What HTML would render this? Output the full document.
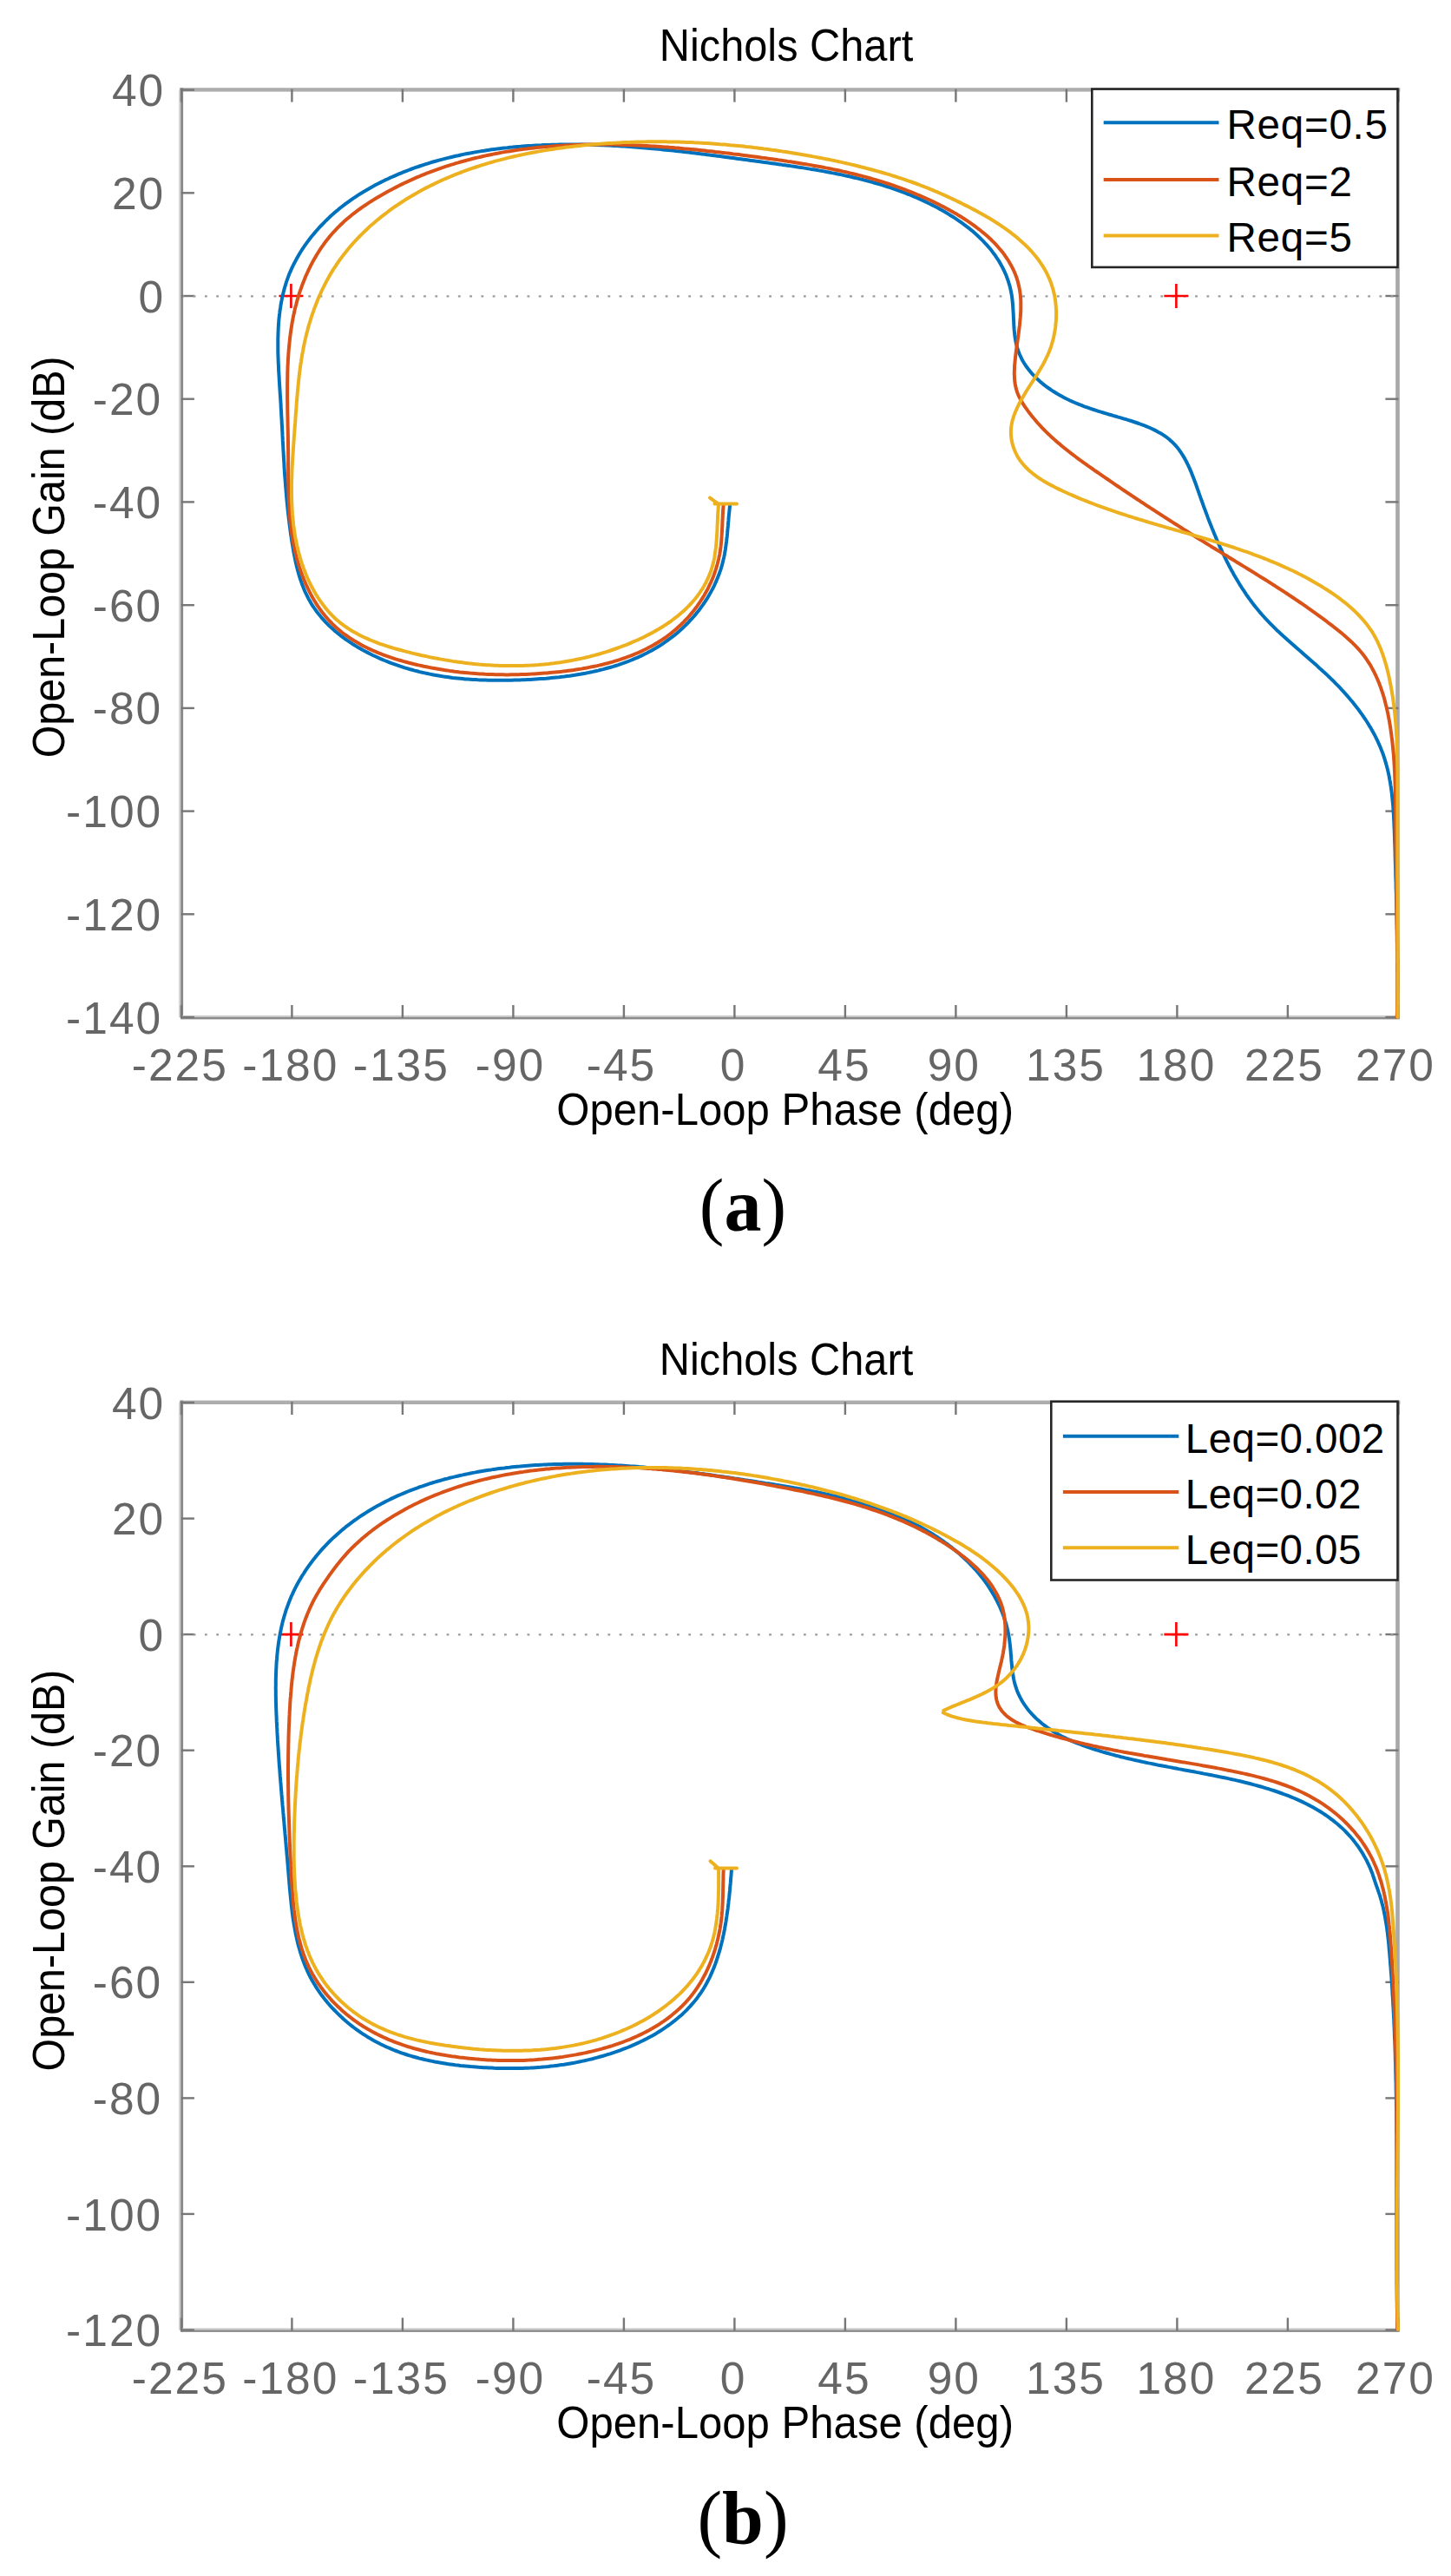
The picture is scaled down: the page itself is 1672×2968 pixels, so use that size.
<!DOCTYPE html>
<html><head><meta charset="utf-8"><title>Nichols Chart</title><style>html,body{margin:0;padding:0;background:#fff;}svg{display:block;}</style></head><body>
<svg xmlns="http://www.w3.org/2000/svg" width="1672" height="2968" viewBox="0 0 1672 2968">
<style>text{font-family:"Liberation Sans",Arial,sans-serif;}</style>
<rect width="1672" height="2968" fill="#fff"/>
<text transform="translate(906.00 70.30) scale(0.9520 1)" x="0.00" text-anchor="middle" style="font-size:51.20px;fill:#000;">Nichols Chart</text>
<rect x="206.9" y="101.2" width="1406.5" height="4.4" fill="#adadad"/>
<rect x="1608.2" y="101.2" width="4.6" height="1072.8" fill="#a8a8a8"/>
<rect x="205.9" y="103.6" width="2.2" height="1068.4" fill="#d6d6d6"/>
<rect x="208.1" y="101.2" width="3" height="1072.8" fill="#8a8a8a"/>
<rect x="208.9" y="1170.0" width="1402.5" height="2" fill="#c8c8c8"/>
<rect x="208.1" y="1172.0" width="1404.5" height="2.4" fill="#8a8a8a"/>
<rect x="207.7" y="102.6" width="2.4" height="15" fill="#777"/>
<rect x="207.7" y="1158.0" width="2.4" height="15" fill="#777"/>
<rect x="335.2" y="102.6" width="2.4" height="15" fill="#777"/>
<rect x="335.2" y="1158.0" width="2.4" height="15" fill="#777"/>
<rect x="462.7" y="102.6" width="2.4" height="15" fill="#777"/>
<rect x="462.7" y="1158.0" width="2.4" height="15" fill="#777"/>
<rect x="590.2" y="102.6" width="2.4" height="15" fill="#777"/>
<rect x="590.2" y="1158.0" width="2.4" height="15" fill="#777"/>
<rect x="717.7" y="102.6" width="2.4" height="15" fill="#777"/>
<rect x="717.7" y="1158.0" width="2.4" height="15" fill="#777"/>
<rect x="845.2" y="102.6" width="2.4" height="15" fill="#777"/>
<rect x="845.2" y="1158.0" width="2.4" height="15" fill="#777"/>
<rect x="972.7" y="102.6" width="2.4" height="15" fill="#777"/>
<rect x="972.7" y="1158.0" width="2.4" height="15" fill="#777"/>
<rect x="1100.2" y="102.6" width="2.4" height="15" fill="#777"/>
<rect x="1100.2" y="1158.0" width="2.4" height="15" fill="#777"/>
<rect x="1227.7" y="102.6" width="2.4" height="15" fill="#777"/>
<rect x="1227.7" y="1158.0" width="2.4" height="15" fill="#777"/>
<rect x="1355.2" y="102.6" width="2.4" height="15" fill="#777"/>
<rect x="1355.2" y="1158.0" width="2.4" height="15" fill="#777"/>
<rect x="1482.7" y="102.6" width="2.4" height="15" fill="#777"/>
<rect x="1482.7" y="1158.0" width="2.4" height="15" fill="#777"/>
<rect x="1610.2" y="102.6" width="2.4" height="15" fill="#777"/>
<rect x="1610.2" y="1158.0" width="2.4" height="15" fill="#777"/>
<rect x="208.9" y="102.4" width="15" height="2.4" fill="#777"/>
<rect x="1596.4" y="102.4" width="15" height="2.4" fill="#777"/>
<rect x="208.9" y="221.1" width="15" height="2.4" fill="#777"/>
<rect x="1596.4" y="221.1" width="15" height="2.4" fill="#777"/>
<rect x="208.9" y="339.8" width="15" height="2.4" fill="#777"/>
<rect x="1596.4" y="339.8" width="15" height="2.4" fill="#777"/>
<rect x="208.9" y="458.5" width="15" height="2.4" fill="#777"/>
<rect x="1596.4" y="458.5" width="15" height="2.4" fill="#777"/>
<rect x="208.9" y="577.2" width="15" height="2.4" fill="#777"/>
<rect x="1596.4" y="577.2" width="15" height="2.4" fill="#777"/>
<rect x="208.9" y="696.0" width="15" height="2.4" fill="#777"/>
<rect x="1596.4" y="696.0" width="15" height="2.4" fill="#777"/>
<rect x="208.9" y="814.7" width="15" height="2.4" fill="#777"/>
<rect x="1596.4" y="814.7" width="15" height="2.4" fill="#777"/>
<rect x="208.9" y="933.4" width="15" height="2.4" fill="#777"/>
<rect x="1596.4" y="933.4" width="15" height="2.4" fill="#777"/>
<rect x="208.9" y="1052.1" width="15" height="2.4" fill="#777"/>
<rect x="1596.4" y="1052.1" width="15" height="2.4" fill="#777"/>
<rect x="208.9" y="1170.8" width="15" height="2.4" fill="#777"/>
<rect x="1596.4" y="1170.8" width="15" height="2.4" fill="#777"/>
<line x1="210.9" y1="341.3" x2="1609.4" y2="341.3" stroke="#9a9a9a" stroke-width="2.3" stroke-dasharray="2.8 10.47" stroke-dashoffset="1.5"/>
<text transform="translate(188.20 122.20)" x="2.00" text-anchor="end" style="font-size:51.50px;fill:#666;letter-spacing:2.00px;">40</text>
<text transform="translate(188.20 240.91)" x="2.00" text-anchor="end" style="font-size:51.50px;fill:#666;letter-spacing:2.00px;">20</text>
<text transform="translate(188.20 359.62)" x="2.00" text-anchor="end" style="font-size:51.50px;fill:#666;letter-spacing:2.00px;">0</text>
<text transform="translate(185.20 478.33)" x="2.00" text-anchor="end" style="font-size:51.50px;fill:#666;letter-spacing:2.00px;">-20</text>
<text transform="translate(185.20 597.04)" x="2.00" text-anchor="end" style="font-size:51.50px;fill:#666;letter-spacing:2.00px;">-40</text>
<text transform="translate(185.20 715.76)" x="2.00" text-anchor="end" style="font-size:51.50px;fill:#666;letter-spacing:2.00px;">-60</text>
<text transform="translate(185.20 834.47)" x="2.00" text-anchor="end" style="font-size:51.50px;fill:#666;letter-spacing:2.00px;">-80</text>
<text transform="translate(185.20 953.18)" x="2.00" text-anchor="end" style="font-size:51.50px;fill:#666;letter-spacing:2.00px;">-100</text>
<text transform="translate(185.20 1071.89)" x="2.00" text-anchor="end" style="font-size:51.50px;fill:#666;letter-spacing:2.00px;">-120</text>
<text transform="translate(185.20 1190.60)" x="2.00" text-anchor="end" style="font-size:51.50px;fill:#666;letter-spacing:2.00px;">-140</text>
<text transform="translate(206.30 1245.20)" x="1.00" text-anchor="middle" style="font-size:51.50px;fill:#666;letter-spacing:2.00px;">-225</text>
<text transform="translate(333.80 1245.20)" x="1.00" text-anchor="middle" style="font-size:51.50px;fill:#666;letter-spacing:2.00px;">-180</text>
<text transform="translate(461.30 1245.20)" x="1.00" text-anchor="middle" style="font-size:51.50px;fill:#666;letter-spacing:2.00px;">-135</text>
<text transform="translate(587.00 1245.20)" x="1.00" text-anchor="middle" style="font-size:51.50px;fill:#666;letter-spacing:2.00px;">-90</text>
<text transform="translate(715.00 1245.20)" x="1.00" text-anchor="middle" style="font-size:51.50px;fill:#666;letter-spacing:2.00px;">-45</text>
<text transform="translate(844.20 1245.20)" x="1.00" text-anchor="middle" style="font-size:51.50px;fill:#666;letter-spacing:2.00px;">0</text>
<text transform="translate(971.90 1245.20)" x="1.00" text-anchor="middle" style="font-size:51.50px;fill:#666;letter-spacing:2.00px;">45</text>
<text transform="translate(1098.30 1245.20)" x="1.00" text-anchor="middle" style="font-size:51.50px;fill:#666;letter-spacing:2.00px;">90</text>
<text transform="translate(1227.00 1245.20)" x="1.00" text-anchor="middle" style="font-size:51.50px;fill:#666;letter-spacing:2.00px;">135</text>
<text transform="translate(1354.40 1245.20)" x="1.00" text-anchor="middle" style="font-size:51.50px;fill:#666;letter-spacing:2.00px;">180</text>
<text transform="translate(1478.90 1245.20)" x="1.00" text-anchor="middle" style="font-size:51.50px;fill:#666;letter-spacing:2.00px;">225</text>
<text transform="translate(1607.00 1245.20)" x="1.00" text-anchor="middle" style="font-size:51.50px;fill:#666;letter-spacing:2.00px;">270</text>
<path d="M321.4 341.0H349.4M335.4 327.0V355.0" stroke="#ff0000" stroke-width="2.6" fill="none"/>
<path d="M1341.4 341.0H1369.4M1355.4 327.0V355.0" stroke="#ff0000" stroke-width="2.6" fill="none"/>
<path d="M841.1 582.1L840.8 585.0L840.5 588.0L840.2 591.0L839.9 593.9L839.6 596.9L839.4 599.9L839.1 602.9L838.9 605.9L838.6 608.9L838.3 611.9L838.1 614.9L837.8 617.9L837.4 620.9L837.1 623.9L836.7 626.8L836.3 629.8L835.9 632.8L835.4 635.7L834.9 638.7L834.3 641.6L833.6 644.6L832.9 647.5L832.2 650.4L831.4 653.2L830.5 656.1L829.5 658.9L828.5 661.8L827.4 664.6L826.3 667.3L825.1 670.1L823.9 672.8L822.6 675.6L821.2 678.3L819.8 680.9L818.3 683.6L816.8 686.2L815.3 688.8L813.6 691.3L812.0 693.8L810.3 696.3L808.5 698.8L806.7 701.3L804.9 703.7L803.0 706.0L801.1 708.4L799.1 710.7L797.1 712.9L795.0 715.2L793.0 717.4L790.9 719.5L788.7 721.6L786.5 723.7L784.3 725.7L782.1 727.7L779.8 729.7L777.5 731.6L775.2 733.4L772.8 735.2L770.4 737.0L768.0 738.7L765.6 740.4L763.1 742.1L760.6 743.7L758.1 745.2L755.6 746.8L753.0 748.3L750.5 749.7L747.9 751.1L745.3 752.5L742.6 753.8L740.0 755.1L737.3 756.3L734.6 757.6L731.9 758.7L729.1 759.9L726.4 761.0L723.6 762.1L720.8 763.1L718.0 764.1L715.2 765.1L712.4 766.1L709.6 767.0L706.7 767.9L703.8 768.7L700.9 769.5L698.0 770.3L695.1 771.1L692.2 771.8L689.3 772.6L686.3 773.2L683.4 773.9L680.4 774.5L677.4 775.1L674.5 775.7L671.5 776.2L668.5 776.8L665.5 777.3L662.5 777.8L659.5 778.2L656.4 778.7L653.4 779.1L650.4 779.5L647.3 779.8L644.3 780.2L641.3 780.5L638.2 780.8L635.2 781.1L632.1 781.4L629.1 781.7L626.0 781.9L623.0 782.1L620.0 782.3L616.9 782.5L613.9 782.7L610.8 782.9L607.8 783.0L604.7 783.2L601.7 783.3L598.7 783.4L595.7 783.5L592.6 783.6L589.6 783.7L586.6 783.7L583.6 783.8L580.6 783.8L577.6 783.8L574.6 783.8L571.6 783.8L568.7 783.8L565.7 783.8L562.7 783.7L559.7 783.6L556.8 783.5L553.8 783.4L550.9 783.3L547.9 783.1L544.9 783.0L542.0 782.8L539.0 782.6L536.1 782.4L533.2 782.1L530.2 781.8L527.3 781.5L524.4 781.2L521.4 780.9L518.5 780.5L515.6 780.1L512.7 779.7L509.8 779.3L506.8 778.8L503.9 778.3L501.0 777.8L498.1 777.2L495.2 776.6L492.3 776.0L489.4 775.4L486.5 774.8L483.6 774.1L480.7 773.3L477.8 772.6L474.9 771.8L472.0 771.0L469.1 770.1L466.3 769.3L463.4 768.3L460.5 767.4L457.6 766.4L454.7 765.4L451.8 764.4L449.0 763.3L446.1 762.1L443.2 761.0L440.4 759.8L437.5 758.6L434.7 757.3L431.9 756.0L429.1 754.7L426.3 753.3L423.6 751.9L420.9 750.5L418.1 749.0L415.5 747.5L412.8 746.0L410.1 744.4L407.5 742.8L405.0 741.1L402.4 739.4L399.9 737.7L397.4 736.0L395.0 734.2L392.5 732.3L390.2 730.4L387.8 728.5L385.5 726.6L383.3 724.6L381.1 722.6L378.9 720.5L376.8 718.4L374.8 716.3L372.8 714.1L370.8 711.9L368.9 709.6L367.0 707.3L365.2 705.0L363.5 702.6L361.8 700.2L360.2 697.8L358.6 695.3L357.2 692.8L355.7 690.2L354.4 687.6L353.1 684.9L351.8 682.3L350.6 679.6L349.5 676.8L348.4 674.0L347.4 671.2L346.4 668.4L345.5 665.6L344.6 662.7L343.8 659.8L343.0 656.9L342.2 654.0L341.5 651.0L340.8 648.1L340.2 645.1L339.6 642.1L339.0 639.1L338.4 636.1L337.9 633.1L337.4 630.1L336.9 627.1L336.4 624.1L335.9 621.1L335.5 618.1L335.0 615.1L334.6 612.1L334.2 609.1L333.8 606.1L333.4 603.1L333.1 600.1L332.7 597.1L332.4 594.1L332.0 591.1L331.7 588.2L331.4 585.2L331.1 582.2L330.8 579.2L330.5 576.3L330.2 573.3L330.0 570.3L329.7 567.3L329.5 564.4L329.2 561.4L329.0 558.4L328.8 555.4L328.6 552.5L328.3 549.5L328.1 546.5L327.9 543.6L327.7 540.6L327.5 537.6L327.4 534.6L327.2 531.7L327.0 528.7L326.8 525.7L326.7 522.8L326.5 519.8L326.3 516.8L326.2 513.8L326.0 510.8L325.8 507.9L325.7 504.9L325.5 501.9L325.4 498.9L325.2 495.9L325.1 492.9L324.9 489.9L324.7 486.9L324.6 483.9L324.4 480.9L324.2 477.9L324.1 474.9L323.9 471.9L323.7 468.9L323.6 465.9L323.4 462.9L323.2 459.9L323.0 456.8L322.8 453.8L322.6 450.8L322.4 447.7L322.2 444.7L322.0 441.7L321.8 438.6L321.7 435.6L321.5 432.6L321.3 429.5L321.1 426.5L321.0 423.4L320.9 420.4L320.7 417.4L320.6 414.3L320.5 411.3L320.4 408.3L320.3 405.2L320.3 402.2L320.3 399.2L320.3 396.2L320.3 393.2L320.3 390.2L320.4 387.2L320.5 384.2L320.6 381.2L320.7 378.2L320.9 375.2L321.1 372.2L321.3 369.3L321.6 366.3L321.9 363.4L322.3 360.4L322.6 357.5L323.1 354.6L323.5 351.7L324.0 348.8L324.6 345.9L325.1 343.0L325.8 340.1L326.5 337.3L327.2 334.4L328.0 331.6L328.8 328.8L329.7 325.9L330.6 323.1L331.6 320.4L332.6 317.6L333.7 314.8L334.9 312.1L336.1 309.4L337.4 306.7L338.7 304.0L340.1 301.3L341.5 298.7L343.0 296.0L344.5 293.4L346.1 290.8L347.7 288.2L349.4 285.7L351.1 283.2L352.9 280.7L354.7 278.2L356.5 275.8L358.4 273.3L360.3 271.0L362.3 268.6L364.3 266.3L366.3 264.0L368.4 261.7L370.5 259.5L372.6 257.3L374.7 255.1L376.9 253.0L379.1 250.9L381.3 248.8L383.6 246.8L385.8 244.8L388.1 242.9L390.4 240.9L392.8 239.0L395.2 237.2L397.5 235.4L399.9 233.6L402.4 231.8L404.8 230.1L407.3 228.4L409.7 226.8L412.2 225.1L414.8 223.5L417.3 222.0L419.8 220.4L422.4 218.9L425.0 217.4L427.6 215.9L430.2 214.5L432.8 213.1L435.4 211.7L438.1 210.4L440.8 209.0L443.4 207.7L446.1 206.5L448.8 205.2L451.5 204.0L454.2 202.8L457.0 201.6L459.7 200.4L462.4 199.3L465.2 198.2L468.0 197.1L470.8 196.0L473.5 195.0L476.3 193.9L479.1 192.9L482.0 192.0L484.8 191.0L487.6 190.1L490.5 189.2L493.3 188.3L496.2 187.4L499.0 186.5L501.9 185.7L504.8 184.9L507.7 184.1L510.6 183.4L513.5 182.6L516.4 181.9L519.3 181.2L522.2 180.5L525.1 179.8L528.1 179.2L531.0 178.5L533.9 177.9L536.9 177.3L539.8 176.7L542.8 176.2L545.8 175.6L548.7 175.1L551.7 174.6L554.7 174.1L557.6 173.7L560.6 173.2L563.6 172.8L566.6 172.3L569.6 171.9L572.6 171.6L575.6 171.2L578.6 170.8L581.6 170.5L584.6 170.2L587.6 169.8L590.6 169.6L593.6 169.3L596.6 169.0L599.6 168.8L602.6 168.5L605.6 168.3L608.6 168.1L611.6 167.9L614.7 167.7L617.7 167.5L620.7 167.4L623.7 167.3L626.7 167.1L629.7 167.0L632.7 166.9L635.7 166.8L638.7 166.7L641.7 166.7L644.7 166.6L647.7 166.6L650.7 166.5L653.7 166.5L656.7 166.5L659.7 166.5L662.7 166.5L665.7 166.5L668.7 166.6L671.7 166.6L674.7 166.7L677.7 166.7L680.7 166.8L683.6 166.9L686.6 167.0L689.6 167.1L692.6 167.2L695.6 167.3L698.6 167.5L701.6 167.6L704.5 167.8L707.5 167.9L710.5 168.1L713.5 168.3L716.5 168.4L719.5 168.6L722.4 168.8L725.4 169.0L728.4 169.3L731.4 169.5L734.4 169.7L737.3 170.0L740.3 170.2L743.3 170.5L746.3 170.7L749.3 171.0L752.2 171.2L755.2 171.5L758.2 171.8L761.2 172.1L764.1 172.4L767.1 172.7L770.1 173.0L773.1 173.3L776.0 173.6L779.0 174.0L782.0 174.3L785.0 174.6L788.0 175.0L790.9 175.3L793.9 175.6L796.9 176.0L799.9 176.3L802.9 176.7L805.8 177.1L808.8 177.4L811.8 177.8L814.8 178.2L817.8 178.6L820.7 178.9L823.7 179.3L826.7 179.7L829.7 180.1L832.7 180.5L835.7 180.9L838.6 181.3L841.6 181.7L844.6 182.1L847.6 182.5L850.6 182.9L853.6 183.3L856.6 183.7L859.6 184.1L862.5 184.5L865.5 184.9L868.5 185.3L871.5 185.7L874.5 186.1L877.5 186.5L880.5 186.9L883.5 187.3L886.5 187.8L889.5 188.2L892.5 188.6L895.5 189.0L898.5 189.4L901.5 189.9L904.5 190.3L907.5 190.7L910.5 191.1L913.5 191.6L916.5 192.0L919.5 192.5L922.5 192.9L925.5 193.4L928.4 193.9L931.4 194.4L934.4 194.9L937.4 195.3L940.4 195.8L943.4 196.4L946.3 196.9L949.3 197.4L952.3 198.0L955.2 198.5L958.2 199.1L961.1 199.6L964.1 200.2L967.0 200.8L970.0 201.4L972.9 202.1L975.9 202.7L978.8 203.3L981.7 204.0L984.6 204.7L987.6 205.4L990.5 206.1L993.4 206.8L996.3 207.6L999.2 208.3L1002.1 209.1L1004.9 209.9L1007.8 210.7L1010.7 211.5L1013.6 212.3L1016.4 213.2L1019.3 214.1L1022.1 215.0L1024.9 215.9L1027.8 216.9L1030.6 217.8L1033.4 218.8L1036.2 219.8L1039.0 220.8L1041.8 221.9L1044.5 223.0L1047.3 224.0L1050.1 225.2L1052.8 226.3L1055.6 227.5L1058.3 228.7L1061.0 229.9L1063.7 231.1L1066.4 232.4L1069.1 233.7L1071.8 235.0L1074.5 236.4L1077.2 237.7L1079.8 239.1L1082.4 240.6L1085.1 242.0L1087.7 243.5L1090.3 245.0L1092.9 246.6L1095.4 248.2L1098.0 249.8L1100.5 251.4L1103.0 253.1L1105.5 254.8L1108.0 256.5L1110.4 258.3L1112.8 260.1L1115.1 261.9L1117.5 263.7L1119.8 265.6L1122.1 267.6L1124.3 269.5L1126.5 271.5L1128.6 273.5L1130.7 275.6L1132.8 277.7L1134.8 279.8L1136.8 281.9L1138.7 284.1L1140.6 286.3L1142.5 288.6L1144.2 290.9L1146.0 293.2L1147.6 295.6L1149.2 298.0L1150.8 300.4L1152.3 302.9L1153.7 305.4L1155.1 308.0L1156.4 310.6L1157.6 313.2L1158.8 315.8L1159.9 318.5L1160.9 321.3L1161.9 324.0L1162.7 326.9L1163.6 329.7L1164.3 332.6L1164.9 335.5L1165.5 338.5L1166.0 341.5L1166.4 344.6L1166.7 347.7L1167.0 350.8L1167.2 353.9L1167.4 357.0L1167.6 360.2L1167.8 363.4L1167.9 366.6L1168.1 369.7L1168.2 372.9L1168.4 376.0L1168.6 379.2L1168.9 382.3L1169.2 385.4L1169.6 388.4L1170.1 391.4L1170.6 394.4L1171.3 397.3L1172.0 400.2L1172.9 403.0L1173.9 405.8L1175.0 408.5L1176.2 411.1L1177.4 413.7L1178.8 416.3L1180.3 418.7L1181.9 421.2L1183.6 423.5L1185.3 425.8L1187.1 428.1L1189.0 430.3L1191.0 432.4L1193.0 434.5L1195.1 436.5L1197.3 438.5L1199.4 440.4L1201.7 442.3L1204.0 444.1L1206.3 445.8L1208.7 447.5L1211.1 449.2L1213.5 450.8L1215.9 452.3L1218.4 453.8L1220.9 455.2L1223.4 456.6L1225.9 458.0L1228.4 459.3L1231.0 460.5L1233.5 461.7L1236.1 462.9L1238.7 464.0L1241.4 465.1L1244.0 466.2L1246.7 467.2L1249.4 468.3L1252.0 469.2L1254.8 470.2L1257.5 471.1L1260.2 472.0L1263.0 472.9L1265.8 473.8L1268.6 474.7L1271.4 475.5L1274.2 476.3L1277.0 477.2L1279.9 478.0L1282.8 478.9L1285.7 479.7L1288.6 480.6L1291.5 481.4L1294.5 482.3L1297.5 483.2L1300.5 484.1L1303.5 485.0L1306.4 486.0L1309.4 487.0L1312.4 488.0L1315.3 489.1L1318.3 490.2L1321.2 491.3L1324.0 492.5L1326.8 493.8L1329.6 495.1L1332.3 496.4L1334.9 497.9L1337.5 499.3L1340.0 500.9L1342.5 502.5L1344.8 504.2L1347.1 506.0L1349.2 507.9L1351.3 509.8L1353.3 511.8L1355.2 513.9L1357.0 516.1L1358.7 518.3L1360.3 520.6L1361.9 523.0L1363.4 525.4L1364.9 527.9L1366.3 530.4L1367.6 533.0L1368.9 535.6L1370.1 538.2L1371.3 540.9L1372.5 543.6L1373.6 546.4L1374.7 549.2L1375.8 552.0L1376.8 554.8L1377.9 557.6L1378.9 560.5L1379.9 563.3L1380.9 566.2L1381.9 569.1L1382.9 571.9L1383.9 574.8L1385.0 577.7L1386.0 580.5L1387.0 583.4L1388.1 586.2L1389.1 589.1L1390.2 591.9L1391.2 594.7L1392.3 597.6L1393.4 600.4L1394.5 603.2L1395.6 606.0L1396.7 608.8L1397.9 611.6L1399.0 614.4L1400.1 617.1L1401.3 619.9L1402.5 622.7L1403.7 625.4L1404.9 628.2L1406.1 630.9L1407.4 633.6L1408.6 636.3L1409.9 639.0L1411.2 641.7L1412.5 644.3L1413.8 647.0L1415.2 649.7L1416.5 652.3L1417.9 654.9L1419.3 657.5L1420.8 660.1L1422.2 662.7L1423.7 665.2L1425.2 667.8L1426.7 670.3L1428.2 672.8L1429.8 675.3L1431.3 677.8L1433.0 680.2L1434.6 682.7L1436.2 685.1L1437.9 687.5L1439.6 689.9L1441.4 692.3L1443.1 694.6L1444.9 697.0L1446.7 699.3L1448.6 701.6L1450.4 703.8L1452.4 706.1L1454.3 708.3L1456.3 710.5L1458.2 712.7L1460.3 714.8L1462.3 717.0L1464.4 719.1L1466.5 721.2L1468.6 723.3L1470.7 725.4L1472.9 727.4L1475.1 729.5L1477.3 731.5L1479.5 733.6L1481.7 735.6L1483.9 737.6L1486.2 739.6L1488.4 741.6L1490.7 743.6L1493.0 745.6L1495.3 747.6L1497.6 749.6L1499.9 751.6L1502.1 753.6L1504.4 755.6L1506.7 757.6L1509.0 759.6L1511.3 761.6L1513.6 763.6L1515.9 765.6L1518.2 767.6L1520.4 769.7L1522.7 771.7L1524.9 773.8L1527.2 775.8L1529.4 777.9L1531.6 780.0L1533.8 782.1L1536.0 784.2L1538.1 786.4L1540.3 788.6L1542.4 790.7L1544.5 792.9L1546.5 795.2L1548.6 797.4L1550.6 799.6L1552.6 801.9L1554.6 804.2L1556.5 806.5L1558.5 808.8L1560.4 811.2L1562.2 813.5L1564.1 815.9L1565.9 818.3L1567.6 820.7L1569.4 823.1L1571.1 825.6L1572.8 828.1L1574.4 830.5L1576.0 833.0L1577.5 835.6L1579.1 838.1L1580.6 840.7L1582.0 843.2L1583.4 845.8L1584.8 848.4L1586.1 851.1L1587.4 853.7L1588.6 856.4L1589.8 859.1L1590.9 861.8L1592.0 864.5L1593.1 867.3L1594.1 870.0L1595.0 872.8L1595.9 875.6L1596.7 878.4L1597.5 881.2L1598.3 884.1L1599.0 887.0L1599.7 889.8L1600.3 892.7L1600.9 895.7L1601.4 898.6L1602.0 901.5L1602.4 904.5L1602.9 907.4L1603.3 910.4L1603.7 913.4L1604.0 916.4L1604.3 919.4L1604.6 922.4L1604.9 925.4L1605.2 928.4L1605.4 931.4L1605.6 934.5L1605.8 937.5L1606.0 940.5L1606.1 943.6L1606.3 946.6L1606.4 949.7L1606.5 952.7L1606.7 955.7L1606.8 958.8L1606.9 961.8L1607.0 964.9L1607.1 967.9L1607.2 970.9L1607.3 974.0L1607.4 977.0L1607.5 980.0L1607.6 983.0L1607.6 986.1L1607.7 989.1L1607.8 992.1L1607.9 995.1L1608.0 998.1L1608.1 1001.1L1608.2 1004.1L1608.2 1007.1L1608.3 1010.1L1608.4 1013.1L1608.5 1016.1L1608.6 1019.1L1608.6 1022.1L1608.7 1025.1L1608.8 1028.1L1608.9 1031.1L1608.9 1034.1L1609.0 1037.0L1609.1 1040.0L1609.1 1043.0L1609.2 1046.0L1609.3 1049.0L1609.3 1052.0L1609.4 1054.9L1609.4 1057.9L1609.5 1060.9L1609.5 1063.9L1609.6 1066.9L1609.6 1069.8L1609.7 1072.8L1609.7 1075.8L1609.8 1078.8L1609.8 1081.8L1609.8 1084.8L1609.9 1087.7L1609.9 1090.7L1609.9 1093.7L1610.0 1096.7L1610.0 1099.7L1610.0 1102.7L1610.1 1105.7L1610.1 1108.7L1610.1 1111.7L1610.1 1114.7L1610.1 1117.7L1610.1 1120.7L1610.1 1123.7L1610.1 1126.7L1610.2 1129.7L1610.2 1132.7L1610.1 1135.7L1610.1 1138.7L1610.1 1141.8L1610.1 1144.8L1610.1 1147.8L1610.1 1150.8L1610.1 1153.9L1610.1 1156.9L1610.0 1159.9L1610.0 1163.0L1610.0 1166.0L1609.9 1169.1L1609.9 1172.1" fill="none" stroke="#0072BD" stroke-width="4" stroke-linejoin="round" stroke-linecap="round"/>
<path d="M833.6 582.1L833.4 585.1L833.1 588.0L833.0 591.0L832.8 594.0L832.7 597.0L832.5 599.9L832.4 602.9L832.3 605.9L832.1 608.9L832.0 611.8L831.8 614.8L831.6 617.7L831.4 620.7L831.2 623.6L830.9 626.6L830.6 629.5L830.2 632.5L829.8 635.4L829.3 638.3L828.7 641.2L828.1 644.1L827.4 647.0L826.7 649.8L825.9 652.7L825.0 655.5L824.1 658.4L823.1 661.2L822.1 664.0L821.0 666.7L819.8 669.5L818.6 672.2L817.3 674.9L816.0 677.6L814.6 680.3L813.1 682.9L811.7 685.5L810.1 688.1L808.5 690.6L806.9 693.1L805.2 695.6L803.5 698.1L801.7 700.5L799.9 702.9L798.0 705.2L796.1 707.5L794.2 709.8L792.2 712.1L790.1 714.2L788.1 716.4L785.9 718.5L783.8 720.6L781.6 722.6L779.4 724.6L777.1 726.5L774.8 728.4L772.5 730.2L770.1 732.0L767.8 733.8L765.3 735.5L762.9 737.1L760.4 738.7L757.9 740.3L755.4 741.8L752.8 743.3L750.2 744.7L747.6 746.1L745.0 747.5L742.3 748.8L739.6 750.1L736.9 751.3L734.2 752.5L731.4 753.7L728.6 754.8L725.8 755.9L723.0 756.9L720.2 758.0L717.4 758.9L714.5 759.9L711.6 760.8L708.7 761.7L705.8 762.6L702.9 763.4L699.9 764.2L697.0 764.9L694.0 765.7L691.1 766.4L688.1 767.1L685.1 767.7L682.1 768.3L679.1 768.9L676.1 769.5L673.0 770.0L670.0 770.6L667.0 771.1L663.9 771.5L660.9 772.0L657.8 772.4L654.8 772.8L651.8 773.2L648.7 773.6L645.7 773.9L642.6 774.2L639.6 774.5L636.5 774.8L633.5 775.1L630.5 775.4L627.4 775.6L624.4 775.8L621.4 776.0L618.4 776.2L615.4 776.4L612.4 776.6L609.4 776.7L606.4 776.9L603.4 777.0L600.4 777.1L597.4 777.2L594.5 777.2L591.5 777.3L588.5 777.3L585.6 777.4L582.6 777.4L579.7 777.3L576.7 777.3L573.8 777.3L570.8 777.2L567.9 777.1L564.9 777.0L562.0 776.9L559.1 776.8L556.1 776.6L553.2 776.4L550.3 776.2L547.3 776.0L544.4 775.8L541.4 775.6L538.5 775.3L535.6 775.0L532.6 774.7L529.7 774.4L526.8 774.0L523.8 773.7L520.9 773.3L518.0 772.9L515.0 772.4L512.1 772.0L509.1 771.5L506.2 771.0L503.2 770.5L500.3 770.0L497.3 769.5L494.3 768.9L491.4 768.3L488.4 767.7L485.4 767.0L482.5 766.4L479.5 765.7L476.5 765.0L473.5 764.2L470.6 763.5L467.6 762.7L464.6 761.9L461.7 761.0L458.7 760.2L455.8 759.3L452.9 758.3L450.0 757.4L447.1 756.4L444.2 755.4L441.3 754.3L438.4 753.2L435.6 752.1L432.8 750.9L430.0 749.7L427.2 748.4L424.5 747.2L421.8 745.8L419.1 744.5L416.4 743.1L413.8 741.6L411.2 740.1L408.6 738.6L406.1 737.0L403.6 735.4L401.1 733.7L398.7 732.0L396.3 730.3L393.9 728.5L391.6 726.6L389.4 724.7L387.1 722.7L385.0 720.7L382.8 718.6L380.8 716.5L378.7 714.4L376.8 712.1L374.8 709.9L373.0 707.5L371.1 705.2L369.3 702.8L367.6 700.3L365.9 697.8L364.3 695.3L362.7 692.7L361.1 690.1L359.6 687.5L358.2 684.8L356.8 682.2L355.4 679.4L354.1 676.7L352.8 673.9L351.6 671.1L350.4 668.3L349.3 665.5L348.2 662.7L347.2 659.8L346.2 657.0L345.2 654.1L344.3 651.2L343.4 648.3L342.6 645.4L341.8 642.5L341.1 639.6L340.4 636.7L339.7 633.8L339.1 630.9L338.5 628.0L338.0 625.1L337.4 622.2L336.9 619.2L336.5 616.3L336.1 613.4L335.7 610.4L335.3 607.5L334.9 604.5L334.6 601.6L334.3 598.6L334.1 595.7L333.8 592.7L333.6 589.7L333.4 586.8L333.2 583.8L333.1 580.8L332.9 577.9L332.8 574.9L332.7 571.9L332.6 568.9L332.5 565.9L332.4 562.9L332.4 559.9L332.3 556.9L332.3 553.9L332.2 550.9L332.2 547.9L332.2 544.9L332.2 541.9L332.2 538.9L332.1 535.9L332.1 532.9L332.1 529.9L332.1 526.9L332.1 523.9L332.1 520.8L332.1 517.8L332.0 514.8L332.0 511.8L332.0 508.7L331.9 505.7L331.9 502.7L331.8 499.7L331.8 496.6L331.7 493.6L331.6 490.6L331.6 487.5L331.5 484.5L331.5 481.5L331.4 478.5L331.3 475.4L331.3 472.4L331.2 469.4L331.2 466.3L331.2 463.3L331.1 460.3L331.1 457.3L331.1 454.2L331.1 451.2L331.1 448.2L331.1 445.2L331.1 442.2L331.2 439.2L331.2 436.2L331.3 433.1L331.3 430.1L331.4 427.1L331.5 424.1L331.6 421.2L331.8 418.2L331.9 415.2L332.1 412.2L332.3 409.2L332.5 406.2L332.7 403.3L333.0 400.3L333.3 397.3L333.6 394.4L333.9 391.4L334.2 388.5L334.6 385.5L335.0 382.6L335.4 379.7L335.9 376.7L336.3 373.8L336.8 370.9L337.4 368.0L337.9 365.1L338.5 362.2L339.2 359.3L339.8 356.4L340.5 353.5L341.3 350.7L342.0 347.8L342.8 344.9L343.7 342.1L344.5 339.2L345.4 336.4L346.4 333.6L347.4 330.8L348.4 328.0L349.5 325.2L350.6 322.4L351.7 319.6L352.9 316.8L354.2 314.1L355.4 311.4L356.8 308.6L358.1 305.9L359.5 303.3L360.9 300.6L362.4 298.0L363.9 295.4L365.5 292.8L367.1 290.2L368.7 287.7L370.4 285.2L372.2 282.7L373.9 280.2L375.7 277.8L377.6 275.4L379.5 273.1L381.4 270.8L383.4 268.5L385.4 266.3L387.5 264.1L389.6 261.9L391.7 259.8L393.9 257.7L396.1 255.6L398.4 253.6L400.7 251.6L403.0 249.7L405.3 247.8L407.7 245.9L410.1 244.1L412.6 242.2L415.0 240.5L417.5 238.7L420.0 237.0L422.5 235.3L425.0 233.6L427.6 232.0L430.2 230.4L432.8 228.8L435.4 227.2L438.0 225.7L440.6 224.2L443.2 222.7L445.8 221.2L448.5 219.8L451.1 218.4L453.8 217.0L456.5 215.6L459.1 214.2L461.8 212.9L464.5 211.6L467.2 210.3L469.9 209.1L472.6 207.8L475.3 206.6L478.0 205.4L480.8 204.2L483.5 203.1L486.2 201.9L489.0 200.8L491.7 199.7L494.5 198.7L497.3 197.6L500.0 196.6L502.8 195.6L505.6 194.6L508.4 193.6L511.2 192.7L514.0 191.7L516.8 190.8L519.6 189.9L522.5 189.1L525.3 188.2L528.1 187.4L531.0 186.5L533.8 185.8L536.7 185.0L539.5 184.2L542.4 183.5L545.2 182.7L548.1 182.0L551.0 181.4L553.9 180.7L556.8 180.0L559.6 179.4L562.5 178.8L565.4 178.2L568.3 177.6L571.3 177.0L574.2 176.5L577.1 175.9L580.0 175.4L582.9 174.9L585.9 174.4L588.8 174.0L591.7 173.5L594.7 173.1L597.6 172.6L600.6 172.2L603.5 171.8L606.5 171.5L609.4 171.1L612.4 170.8L615.4 170.4L618.3 170.1L621.3 169.8L624.3 169.5L627.3 169.2L630.3 169.0L633.3 168.7L636.2 168.5L639.2 168.3L642.2 168.1L645.2 167.9L648.2 167.7L651.2 167.5L654.2 167.4L657.2 167.2L660.2 167.1L663.3 167.0L666.3 166.9L669.3 166.8L672.3 166.7L675.3 166.6L678.3 166.6L681.4 166.5L684.4 166.5L687.4 166.5L690.4 166.5L693.5 166.5L696.5 166.5L699.5 166.5L702.6 166.5L705.6 166.6L708.6 166.6L711.7 166.7L714.7 166.8L717.8 166.9L720.8 166.9L723.8 167.0L726.9 167.2L729.9 167.3L733.0 167.4L736.0 167.5L739.0 167.7L742.1 167.9L745.1 168.0L748.2 168.2L751.2 168.4L754.3 168.6L757.3 168.8L760.3 169.0L763.4 169.2L766.4 169.4L769.5 169.6L772.5 169.9L775.6 170.1L778.6 170.4L781.6 170.6L784.7 170.9L787.7 171.2L790.7 171.4L793.8 171.7L796.8 172.0L799.9 172.3L802.9 172.6L805.9 172.9L808.9 173.2L812.0 173.5L815.0 173.9L818.0 174.2L821.1 174.5L824.1 174.9L827.1 175.2L830.1 175.6L833.1 175.9L836.1 176.3L839.2 176.6L842.2 177.0L845.2 177.4L848.2 177.7L851.2 178.1L854.2 178.5L857.2 178.9L860.2 179.3L863.2 179.7L866.2 180.1L869.2 180.4L872.1 180.8L875.1 181.2L878.1 181.7L881.1 182.1L884.0 182.5L887.0 182.9L890.0 183.3L892.9 183.7L895.9 184.1L898.9 184.6L901.8 185.0L904.8 185.4L907.7 185.9L910.7 186.3L913.6 186.8L916.5 187.2L919.5 187.7L922.4 188.2L925.3 188.7L928.3 189.1L931.2 189.6L934.1 190.1L937.0 190.7L939.9 191.2L942.8 191.7L945.7 192.2L948.6 192.8L951.5 193.4L954.4 193.9L957.3 194.5L960.2 195.1L963.1 195.7L966.0 196.3L968.9 196.9L971.7 197.6L974.6 198.2L977.5 198.9L980.4 199.6L983.2 200.3L986.1 201.0L988.9 201.7L991.8 202.4L994.6 203.2L997.5 203.9L1000.3 204.7L1003.2 205.5L1006.0 206.3L1008.8 207.1L1011.7 208.0L1014.5 208.8L1017.3 209.7L1020.1 210.6L1023.0 211.5L1025.8 212.4L1028.6 213.4L1031.4 214.4L1034.2 215.3L1037.0 216.3L1039.8 217.4L1042.6 218.4L1045.4 219.5L1048.1 220.6L1050.9 221.7L1053.7 222.8L1056.5 224.0L1059.3 225.1L1062.0 226.3L1064.8 227.5L1067.6 228.8L1070.3 230.0L1073.1 231.3L1075.8 232.6L1078.6 234.0L1081.3 235.3L1084.0 236.7L1086.8 238.1L1089.5 239.6L1092.2 241.0L1094.9 242.5L1097.6 244.0L1100.3 245.6L1103.0 247.1L1105.6 248.7L1108.3 250.3L1110.9 252.0L1113.4 253.7L1116.0 255.4L1118.5 257.1L1121.0 258.8L1123.5 260.6L1125.9 262.5L1128.3 264.3L1130.7 266.2L1133.0 268.1L1135.3 270.0L1137.6 272.0L1139.8 274.0L1141.9 276.0L1144.0 278.1L1146.1 280.2L1148.1 282.3L1150.0 284.5L1151.9 286.7L1153.8 288.9L1155.6 291.1L1157.3 293.4L1158.9 295.8L1160.5 298.1L1162.1 300.5L1163.5 302.9L1164.9 305.4L1166.2 307.9L1167.5 310.4L1168.7 313.0L1169.8 315.6L1170.8 318.2L1171.7 320.9L1172.6 323.6L1173.3 326.4L1174.0 329.2L1174.6 332.0L1175.1 334.9L1175.5 337.8L1175.9 340.7L1176.1 343.7L1176.3 346.7L1176.3 349.7L1176.3 352.8L1176.3 355.9L1176.2 359.0L1176.0 362.1L1175.8 365.2L1175.5 368.4L1175.2 371.6L1174.9 374.7L1174.5 377.9L1174.1 381.1L1173.7 384.2L1173.3 387.4L1172.8 390.6L1172.4 393.7L1171.9 396.9L1171.5 400.0L1171.1 403.1L1170.7 406.2L1170.3 409.3L1170.0 412.3L1169.7 415.3L1169.4 418.3L1169.1 421.3L1169.0 424.2L1168.9 427.1L1168.8 429.9L1168.9 432.8L1169.0 435.6L1169.2 438.3L1169.5 441.1L1170.0 443.8L1170.6 446.5L1171.3 449.2L1172.1 451.9L1173.1 454.5L1174.3 457.1L1175.6 459.7L1177.1 462.3L1178.6 464.9L1180.2 467.4L1181.9 469.9L1183.7 472.3L1185.4 474.7L1187.2 477.1L1189.1 479.5L1191.0 481.8L1192.9 484.1L1194.8 486.3L1196.8 488.5L1198.8 490.7L1200.8 492.9L1202.9 495.0L1205.0 497.1L1207.1 499.2L1209.3 501.2L1211.4 503.3L1213.6 505.3L1215.9 507.2L1218.1 509.2L1220.4 511.1L1222.6 513.1L1225.0 515.0L1227.3 516.8L1229.6 518.7L1232.0 520.5L1234.3 522.4L1236.7 524.2L1239.1 526.0L1241.5 527.8L1243.9 529.6L1246.4 531.3L1248.8 533.1L1251.3 534.8L1253.7 536.6L1256.2 538.3L1258.6 540.0L1261.1 541.8L1263.6 543.5L1266.0 545.2L1268.5 546.9L1271.0 548.6L1273.5 550.3L1276.0 552.0L1278.4 553.7L1280.9 555.4L1283.4 557.1L1285.9 558.8L1288.4 560.5L1290.9 562.2L1293.3 563.8L1295.8 565.5L1298.3 567.2L1300.8 568.8L1303.3 570.5L1305.8 572.2L1308.3 573.8L1310.8 575.5L1313.3 577.1L1315.8 578.8L1318.3 580.4L1320.8 582.1L1323.3 583.7L1325.8 585.4L1328.4 587.0L1330.9 588.6L1333.4 590.3L1335.9 591.9L1338.4 593.5L1340.9 595.1L1343.4 596.7L1346.0 598.4L1348.5 600.0L1351.0 601.6L1353.5 603.2L1356.1 604.8L1358.6 606.4L1361.1 608.0L1363.6 609.6L1366.2 611.2L1368.7 612.8L1371.2 614.4L1373.8 616.0L1376.3 617.6L1378.8 619.2L1381.4 620.7L1383.9 622.3L1386.5 623.9L1389.0 625.5L1391.5 627.0L1394.1 628.6L1396.6 630.2L1399.2 631.8L1401.7 633.3L1404.3 634.9L1406.8 636.4L1409.4 638.0L1411.9 639.6L1414.5 641.1L1417.0 642.7L1419.6 644.3L1422.1 645.8L1424.7 647.4L1427.3 648.9L1429.8 650.5L1432.4 652.1L1434.9 653.6L1437.5 655.2L1440.0 656.8L1442.5 658.3L1445.1 659.9L1447.6 661.5L1450.2 663.1L1452.7 664.7L1455.3 666.2L1457.8 667.8L1460.3 669.4L1462.9 671.0L1465.4 672.6L1467.9 674.2L1470.4 675.9L1472.9 677.5L1475.5 679.1L1478.0 680.7L1480.5 682.4L1483.0 684.0L1485.5 685.7L1488.0 687.3L1490.5 689.0L1493.0 690.7L1495.5 692.3L1497.9 694.0L1500.4 695.7L1502.9 697.4L1505.4 699.1L1507.8 700.8L1510.3 702.6L1512.7 704.3L1515.2 706.1L1517.6 707.8L1520.0 709.6L1522.5 711.4L1524.9 713.1L1527.3 714.9L1529.7 716.8L1532.1 718.6L1534.5 720.4L1536.9 722.3L1539.3 724.1L1541.6 726.0L1544.0 727.9L1546.3 729.8L1548.6 731.7L1550.9 733.7L1553.1 735.7L1555.3 737.7L1557.5 739.7L1559.6 741.8L1561.7 743.9L1563.8 746.1L1565.8 748.3L1567.7 750.5L1569.6 752.8L1571.4 755.1L1573.2 757.4L1574.8 759.8L1576.5 762.3L1578.1 764.8L1579.6 767.3L1581.0 769.9L1582.4 772.5L1583.8 775.1L1585.1 777.8L1586.3 780.5L1587.5 783.3L1588.7 786.0L1589.8 788.8L1590.8 791.6L1591.8 794.5L1592.8 797.3L1593.7 800.2L1594.6 803.1L1595.4 806.1L1596.2 809.0L1596.9 812.0L1597.7 814.9L1598.3 817.9L1599.0 820.9L1599.6 823.9L1600.2 826.9L1600.8 829.9L1601.3 832.9L1601.8 835.9L1602.3 838.9L1602.7 841.9L1603.1 844.9L1603.5 847.9L1603.9 851.0L1604.3 854.0L1604.6 857.0L1604.9 860.0L1605.2 863.0L1605.5 866.0L1605.8 868.9L1606.0 871.9L1606.2 874.9L1606.4 877.9L1606.6 880.9L1606.8 883.9L1606.9 886.9L1607.1 889.9L1607.2 892.9L1607.3 895.9L1607.4 898.9L1607.5 901.9L1607.6 904.9L1607.7 907.8L1607.8 910.8L1607.8 913.8L1607.9 916.8L1607.9 919.8L1608.0 922.8L1608.0 925.8L1608.0 928.8L1608.1 931.7L1608.1 934.7L1608.1 937.7L1608.1 940.7L1608.1 943.7L1608.1 946.7L1608.2 949.7L1608.2 952.7L1608.2 955.7L1608.2 958.7L1608.2 961.7L1608.2 964.7L1608.3 967.7L1608.3 970.7L1608.3 973.7L1608.4 976.7L1608.4 979.7L1608.4 982.7L1608.5 985.7L1608.5 988.7L1608.6 991.7L1608.6 994.7L1608.7 997.7L1608.7 1000.7L1608.8 1003.7L1608.8 1006.7L1608.9 1009.7L1608.9 1012.7L1609.0 1015.7L1609.0 1018.7L1609.1 1021.7L1609.1 1024.7L1609.2 1027.7L1609.2 1030.7L1609.3 1033.7L1609.4 1036.8L1609.4 1039.8L1609.5 1042.8L1609.5 1045.8L1609.6 1048.8L1609.6 1051.8L1609.7 1054.8L1609.7 1057.8L1609.8 1060.8L1609.8 1063.8L1609.9 1066.9L1609.9 1069.9L1610.0 1072.9L1610.0 1075.9L1610.1 1078.9L1610.1 1081.9L1610.2 1084.9L1610.2 1087.9L1610.2 1090.9L1610.3 1093.9L1610.3 1096.9L1610.3 1100.0L1610.3 1103.0L1610.4 1106.0L1610.4 1109.0L1610.4 1112.0L1610.4 1115.0L1610.4 1118.0L1610.4 1121.0L1610.4 1124.0L1610.4 1127.0L1610.4 1130.0L1610.4 1133.0L1610.4 1136.0L1610.4 1139.0L1610.3 1142.0L1610.3 1145.0L1610.3 1148.0L1610.2 1151.0L1610.2 1154.0L1610.2 1157.0L1610.1 1160.0L1610.0 1163.0L1610.0 1166.0L1609.9 1169.0L1609.8 1172.0" fill="none" stroke="#D95319" stroke-width="4" stroke-linejoin="round" stroke-linecap="round"/>
<path d="M827.9 582.5L827.7 585.1L827.5 587.8L827.3 590.6L827.1 593.5L827.0 596.4L826.9 599.3L826.8 602.3L826.6 605.3L826.5 608.4L826.4 611.5L826.2 614.6L826.0 617.7L825.8 620.8L825.6 624.0L825.3 627.1L825.0 630.2L824.6 633.3L824.2 636.4L823.7 639.5L823.2 642.6L822.6 645.6L821.9 648.6L821.1 651.5L820.3 654.4L819.4 657.2L818.4 660.0L817.3 662.8L816.2 665.5L814.9 668.1L813.7 670.7L812.3 673.3L810.9 675.8L809.4 678.3L807.8 680.7L806.2 683.1L804.5 685.4L802.8 687.8L801.0 690.0L799.1 692.2L797.2 694.4L795.2 696.5L793.2 698.6L791.1 700.7L789.0 702.7L786.8 704.7L784.6 706.6L782.4 708.5L780.1 710.4L777.7 712.2L775.3 714.0L772.9 715.8L770.5 717.5L768.0 719.2L765.4 720.8L762.9 722.5L760.3 724.0L757.7 725.6L755.1 727.1L752.4 728.6L749.7 730.0L747.0 731.4L744.3 732.8L741.6 734.2L738.8 735.5L736.0 736.8L733.2 738.0L730.4 739.2L727.6 740.4L724.8 741.6L722.0 742.8L719.1 743.9L716.3 744.9L713.5 746.0L710.6 747.0L707.8 748.0L704.9 749.0L702.1 750.0L699.2 750.9L696.3 751.8L693.4 752.6L690.6 753.5L687.7 754.3L684.8 755.1L681.9 755.8L679.0 756.6L676.1 757.3L673.2 758.0L670.3 758.6L667.4 759.2L664.5 759.8L661.5 760.4L658.6 761.0L655.7 761.5L652.8 762.0L649.8 762.5L646.9 763.0L643.9 763.4L641.0 763.8L638.1 764.2L635.1 764.5L632.2 764.9L629.2 765.2L626.2 765.5L623.3 765.7L620.3 766.0L617.4 766.2L614.4 766.4L611.4 766.6L608.5 766.7L605.5 766.8L602.5 766.9L599.5 767.0L596.6 767.1L593.6 767.1L590.6 767.1L587.6 767.1L584.7 767.1L581.7 767.1L578.7 767.0L575.7 766.9L572.7 766.8L569.7 766.7L566.8 766.5L563.8 766.3L560.8 766.2L557.8 765.9L554.8 765.7L551.8 765.5L548.8 765.2L545.9 764.9L542.9 764.6L539.9 764.3L536.9 763.9L533.9 763.5L530.9 763.1L527.9 762.7L525.0 762.3L522.0 761.9L519.0 761.4L516.0 760.9L513.0 760.4L510.0 759.9L507.1 759.4L504.1 758.8L501.1 758.3L498.1 757.7L495.2 757.1L492.2 756.4L489.2 755.8L486.3 755.2L483.3 754.5L480.3 753.8L477.4 753.1L474.4 752.4L471.5 751.6L468.5 750.9L465.6 750.1L462.6 749.3L459.7 748.5L456.7 747.7L453.8 746.9L450.9 746.0L448.0 745.1L445.1 744.2L442.2 743.2L439.4 742.3L436.5 741.3L433.7 740.2L430.9 739.1L428.2 738.0L425.4 736.9L422.7 735.7L420.0 734.5L417.3 733.2L414.7 731.9L412.1 730.5L409.5 729.1L407.0 727.7L404.4 726.2L402.0 724.6L399.6 723.0L397.2 721.4L394.8 719.6L392.5 717.9L390.3 716.0L388.1 714.2L385.9 712.2L383.8 710.2L381.8 708.1L379.8 706.0L377.8 703.8L375.9 701.6L374.1 699.3L372.3 696.9L370.5 694.5L368.8 692.1L367.1 689.6L365.5 687.1L363.9 684.6L362.4 682.0L360.9 679.3L359.5 676.7L358.1 674.0L356.8 671.3L355.5 668.5L354.2 665.8L353.0 663.0L351.9 660.1L350.8 657.3L349.7 654.5L348.7 651.6L347.7 648.7L346.8 645.8L345.9 642.9L345.1 640.0L344.3 637.1L343.6 634.2L342.9 631.3L342.2 628.4L341.6 625.5L341.0 622.5L340.4 619.6L339.9 616.6L339.4 613.7L339.0 610.7L338.6 607.8L338.2 604.8L337.9 601.9L337.6 598.9L337.3 595.9L337.0 592.9L336.8 590.0L336.6 587.0L336.5 584.0L336.3 581.0L336.2 578.0L336.1 575.0L336.1 572.0L336.0 569.0L336.0 566.0L336.0 563.0L336.0 560.0L336.0 557.0L336.1 554.0L336.2 551.0L336.3 548.0L336.4 545.0L336.5 541.9L336.6 538.9L336.8 535.9L336.9 532.9L337.1 529.9L337.3 526.9L337.5 523.9L337.7 520.8L337.9 517.8L338.1 514.8L338.3 511.8L338.5 508.8L338.7 505.8L338.9 502.8L339.2 499.8L339.4 496.8L339.6 493.7L339.8 490.7L340.1 487.7L340.3 484.7L340.5 481.7L340.7 478.7L340.9 475.8L341.2 472.8L341.4 469.8L341.6 466.8L341.8 463.8L342.1 460.8L342.3 457.8L342.6 454.9L342.8 451.9L343.1 448.9L343.4 445.9L343.7 443.0L344.0 440.0L344.3 437.0L344.6 434.1L345.0 431.1L345.3 428.2L345.7 425.2L346.1 422.2L346.5 419.3L347.0 416.3L347.4 413.4L347.9 410.5L348.4 407.5L349.0 404.6L349.5 401.6L350.1 398.7L350.7 395.8L351.3 392.9L352.0 389.9L352.7 387.0L353.4 384.1L354.2 381.2L354.9 378.3L355.7 375.4L356.6 372.5L357.5 369.6L358.4 366.7L359.3 363.8L360.3 360.9L361.3 358.1L362.3 355.2L363.4 352.4L364.5 349.6L365.6 346.8L366.7 344.0L367.9 341.2L369.2 338.5L370.4 335.7L371.7 333.0L373.0 330.3L374.4 327.6L375.8 324.9L377.2 322.3L378.7 319.6L380.1 317.0L381.7 314.4L383.2 311.9L384.8 309.3L386.5 306.8L388.1 304.3L389.8 301.8L391.5 299.4L393.3 297.0L395.1 294.6L396.9 292.2L398.8 289.9L400.7 287.6L402.6 285.3L404.5 283.0L406.5 280.7L408.5 278.5L410.5 276.3L412.6 274.2L414.7 272.0L416.8 269.9L418.9 267.8L421.1 265.7L423.2 263.7L425.4 261.6L427.7 259.6L429.9 257.7L432.2 255.7L434.5 253.8L436.8 251.9L439.1 250.0L441.5 248.1L443.9 246.3L446.3 244.5L448.7 242.7L451.1 240.9L453.5 239.2L456.0 237.5L458.5 235.8L461.0 234.2L463.5 232.5L466.0 230.9L468.5 229.3L471.1 227.7L473.6 226.2L476.2 224.7L478.8 223.2L481.4 221.7L484.0 220.3L486.6 218.8L489.2 217.4L491.9 216.1L494.5 214.7L497.2 213.4L499.9 212.1L502.6 210.8L505.3 209.5L508.0 208.2L510.7 207.0L513.4 205.8L516.2 204.6L518.9 203.5L521.7 202.3L524.5 201.2L527.3 200.1L530.0 199.0L532.8 198.0L535.6 196.9L538.5 195.9L541.3 194.9L544.1 193.9L546.9 193.0L549.8 192.0L552.6 191.1L555.5 190.2L558.4 189.3L561.3 188.4L564.1 187.6L567.0 186.8L569.9 185.9L572.8 185.1L575.7 184.4L578.7 183.6L581.6 182.9L584.5 182.1L587.4 181.4L590.4 180.7L593.3 180.0L596.3 179.4L599.2 178.7L602.2 178.1L605.1 177.5L608.1 176.9L611.1 176.3L614.0 175.7L617.0 175.2L620.0 174.6L623.0 174.1L626.0 173.6L628.9 173.1L631.9 172.6L634.9 172.2L637.9 171.7L640.9 171.3L643.9 170.8L646.9 170.4L649.9 170.0L652.9 169.6L655.9 169.3L658.9 168.9L662.0 168.6L665.0 168.2L668.0 167.9L671.0 167.6L674.0 167.3L677.0 167.0L680.0 166.7L683.0 166.5L686.0 166.2L689.0 166.0L692.0 165.7L695.0 165.5L698.1 165.3L701.1 165.1L704.1 164.9L707.1 164.7L710.1 164.6L713.1 164.4L716.1 164.2L719.1 164.1L722.1 164.0L725.1 163.9L728.1 163.8L731.1 163.7L734.1 163.6L737.1 163.5L740.1 163.4L743.1 163.4L746.1 163.3L749.1 163.3L752.1 163.3L755.0 163.3L758.0 163.3L761.0 163.3L764.0 163.3L767.0 163.3L770.0 163.4L773.0 163.4L776.0 163.5L779.0 163.5L782.0 163.6L785.0 163.7L787.9 163.8L790.9 163.9L793.9 164.0L796.9 164.1L799.9 164.3L802.9 164.4L805.9 164.6L808.9 164.7L811.8 164.9L814.8 165.1L817.8 165.3L820.8 165.5L823.8 165.7L826.8 165.9L829.7 166.2L832.7 166.4L835.7 166.6L838.7 166.9L841.7 167.2L844.6 167.4L847.6 167.7L850.6 168.0L853.6 168.3L856.6 168.6L859.5 169.0L862.5 169.3L865.5 169.6L868.5 170.0L871.5 170.3L874.4 170.7L877.4 171.1L880.4 171.5L883.4 171.8L886.4 172.2L889.3 172.7L892.3 173.1L895.3 173.5L898.3 173.9L901.2 174.4L904.2 174.8L907.2 175.3L910.2 175.8L913.1 176.2L916.1 176.7L919.1 177.2L922.1 177.7L925.0 178.2L928.0 178.7L931.0 179.3L934.0 179.8L936.9 180.4L939.9 180.9L942.9 181.5L945.9 182.0L948.8 182.6L951.8 183.2L954.8 183.8L957.7 184.4L960.7 185.0L963.6 185.6L966.6 186.3L969.6 186.9L972.5 187.6L975.4 188.2L978.4 188.9L981.3 189.6L984.3 190.3L987.2 191.0L990.1 191.7L993.0 192.5L995.9 193.2L998.8 194.0L1001.7 194.7L1004.6 195.5L1007.5 196.3L1010.4 197.1L1013.3 197.9L1016.2 198.7L1019.0 199.5L1021.9 200.4L1024.7 201.2L1027.6 202.1L1030.4 203.0L1033.2 203.9L1036.0 204.8L1038.8 205.7L1041.6 206.6L1044.4 207.6L1047.2 208.6L1050.0 209.5L1052.7 210.5L1055.5 211.5L1058.2 212.5L1060.9 213.6L1063.6 214.6L1066.3 215.7L1069.0 216.7L1071.7 217.8L1074.4 218.9L1077.0 220.1L1079.7 221.2L1082.4 222.3L1085.0 223.5L1087.7 224.7L1090.3 225.9L1093.0 227.1L1095.6 228.3L1098.3 229.6L1100.9 230.8L1103.6 232.1L1106.3 233.4L1108.9 234.7L1111.6 236.1L1114.3 237.4L1117.0 238.8L1119.7 240.2L1122.4 241.6L1125.1 243.0L1127.7 244.5L1130.4 246.0L1133.1 247.5L1135.8 249.0L1138.4 250.6L1141.0 252.1L1143.7 253.7L1146.3 255.3L1148.9 257.0L1151.4 258.7L1154.0 260.4L1156.5 262.1L1159.0 263.8L1161.5 265.6L1163.9 267.4L1166.3 269.3L1168.7 271.1L1171.0 273.0L1173.3 274.9L1175.6 276.9L1177.8 278.9L1180.0 280.9L1182.2 283.0L1184.3 285.0L1186.3 287.2L1188.3 289.3L1190.2 291.5L1192.1 293.7L1194.0 296.0L1195.8 298.3L1197.5 300.6L1199.1 303.0L1200.7 305.4L1202.3 307.8L1203.7 310.3L1205.1 312.8L1206.5 315.4L1207.7 318.0L1208.9 320.6L1210.0 323.3L1211.1 326.0L1212.0 328.8L1212.9 331.6L1213.7 334.4L1214.4 337.3L1215.1 340.2L1215.6 343.2L1216.1 346.2L1216.4 349.2L1216.7 352.3L1216.9 355.3L1217.1 358.4L1217.1 361.5L1217.1 364.6L1217.0 367.7L1216.8 370.8L1216.5 373.9L1216.2 377.0L1215.7 380.1L1215.2 383.2L1214.6 386.2L1214.0 389.2L1213.2 392.2L1212.4 395.2L1211.5 398.1L1210.6 401.0L1209.5 403.8L1208.4 406.6L1207.2 409.3L1205.9 412.0L1204.6 414.7L1203.3 417.3L1201.9 419.9L1200.4 422.5L1198.9 425.0L1197.4 427.6L1195.9 430.1L1194.3 432.6L1192.7 435.1L1191.1 437.6L1189.5 440.1L1187.9 442.5L1186.3 445.0L1184.7 447.5L1183.1 450.0L1181.6 452.5L1180.1 455.1L1178.6 457.6L1177.1 460.2L1175.7 462.8L1174.3 465.5L1172.9 468.1L1171.7 470.8L1170.5 473.6L1169.3 476.4L1168.3 479.2L1167.4 482.0L1166.5 484.9L1165.9 487.8L1165.4 490.7L1165.0 493.7L1164.9 496.6L1164.9 499.6L1165.1 502.6L1165.4 505.5L1166.0 508.5L1166.6 511.4L1167.4 514.2L1168.4 517.0L1169.5 519.7L1170.7 522.4L1172.0 524.9L1173.4 527.4L1175.0 529.8L1176.6 532.1L1178.4 534.3L1180.2 536.4L1182.2 538.5L1184.2 540.5L1186.3 542.5L1188.5 544.3L1190.8 546.2L1193.1 547.9L1195.5 549.6L1197.9 551.3L1200.4 552.9L1203.0 554.5L1205.6 556.0L1208.2 557.5L1210.9 558.9L1213.6 560.3L1216.3 561.7L1219.1 563.1L1221.8 564.4L1224.6 565.7L1227.4 567.0L1230.2 568.3L1233.0 569.5L1235.7 570.7L1238.5 571.9L1241.3 573.1L1244.2 574.3L1247.0 575.5L1249.8 576.6L1252.6 577.7L1255.4 578.8L1258.3 579.9L1261.1 581.0L1264.0 582.1L1266.8 583.1L1269.6 584.1L1272.5 585.2L1275.3 586.2L1278.2 587.2L1281.1 588.2L1283.9 589.1L1286.8 590.1L1289.7 591.1L1292.5 592.0L1295.4 592.9L1298.3 593.9L1301.2 594.8L1304.0 595.7L1306.9 596.6L1309.8 597.5L1312.7 598.4L1315.6 599.2L1318.5 600.1L1321.3 601.0L1324.2 601.9L1327.1 602.7L1330.0 603.6L1332.9 604.4L1335.8 605.3L1338.7 606.1L1341.6 606.9L1344.5 607.8L1347.3 608.6L1350.2 609.4L1353.1 610.3L1356.0 611.1L1358.9 611.9L1361.8 612.8L1364.7 613.6L1367.6 614.4L1370.4 615.2L1373.3 616.1L1376.2 616.9L1379.1 617.8L1382.0 618.6L1384.8 619.4L1387.7 620.3L1390.6 621.1L1393.4 622.0L1396.3 622.9L1399.2 623.7L1402.0 624.6L1404.9 625.5L1407.7 626.4L1410.6 627.3L1413.4 628.2L1416.3 629.1L1419.1 630.0L1421.9 630.9L1424.7 631.9L1427.6 632.8L1430.4 633.8L1433.2 634.8L1436.0 635.7L1438.8 636.7L1441.6 637.7L1444.4 638.8L1447.2 639.8L1450.0 640.8L1452.8 641.9L1455.5 643.0L1458.3 644.0L1461.1 645.1L1463.8 646.3L1466.6 647.4L1469.3 648.5L1472.0 649.7L1474.8 650.9L1477.5 652.1L1480.2 653.3L1482.9 654.5L1485.6 655.8L1488.3 657.0L1491.0 658.3L1493.7 659.6L1496.3 661.0L1499.0 662.3L1501.7 663.7L1504.3 665.1L1506.9 666.5L1509.6 667.9L1512.2 669.4L1514.8 670.9L1517.4 672.4L1520.0 673.9L1522.6 675.5L1525.1 677.1L1527.7 678.7L1530.3 680.3L1532.8 682.0L1535.3 683.7L1537.8 685.4L1540.3 687.1L1542.7 688.9L1545.1 690.7L1547.5 692.6L1549.9 694.4L1552.2 696.3L1554.5 698.3L1556.8 700.2L1559.0 702.2L1561.2 704.3L1563.3 706.4L1565.4 708.5L1567.4 710.6L1569.4 712.8L1571.4 715.0L1573.2 717.3L1575.1 719.6L1576.8 721.9L1578.5 724.3L1580.2 726.7L1581.8 729.2L1583.3 731.7L1584.7 734.3L1586.1 736.9L1587.4 739.5L1588.6 742.2L1589.8 744.9L1591.0 747.6L1592.0 750.4L1593.1 753.2L1594.0 756.0L1595.0 758.8L1595.8 761.7L1596.7 764.6L1597.5 767.5L1598.3 770.4L1599.0 773.3L1599.7 776.2L1600.4 779.1L1601.0 782.0L1601.6 785.0L1602.2 787.9L1602.8 790.8L1603.3 793.8L1603.8 796.7L1604.3 799.7L1604.8 802.6L1605.2 805.6L1605.6 808.5L1606.0 811.5L1606.4 814.5L1606.7 817.4L1607.1 820.4L1607.4 823.4L1607.7 826.4L1607.9 829.3L1608.2 832.3L1608.4 835.3L1608.7 838.3L1608.9 841.3L1609.0 844.3L1609.2 847.3L1609.4 850.3L1609.5 853.3L1609.6 856.3L1609.8 859.3L1609.9 862.3L1610.0 865.3L1610.0 868.3L1610.1 871.3L1610.2 874.3L1610.2 877.3L1610.3 880.3L1610.3 883.3L1610.4 886.4L1610.4 889.4L1610.4 892.4L1610.4 895.4L1610.4 898.4L1610.4 901.4L1610.4 904.5L1610.4 907.5L1610.4 910.5L1610.4 913.5L1610.4 916.5L1610.4 919.5L1610.4 922.5L1610.4 925.6L1610.4 928.6L1610.4 931.6L1610.4 934.6L1610.4 937.6L1610.4 940.6L1610.4 943.6L1610.4 946.6L1610.4 949.6L1610.4 952.6L1610.4 955.7L1610.4 958.7L1610.4 961.7L1610.4 964.7L1610.4 967.7L1610.4 970.7L1610.4 973.7L1610.4 976.7L1610.4 979.7L1610.4 982.7L1610.4 985.7L1610.4 988.7L1610.4 991.7L1610.4 994.7L1610.4 997.7L1610.4 1000.7L1610.4 1003.7L1610.4 1006.7L1610.4 1009.8L1610.4 1012.8L1610.5 1015.8L1610.5 1018.8L1610.5 1021.8L1610.5 1024.8L1610.5 1027.8L1610.5 1030.8L1610.5 1033.8L1610.5 1036.8L1610.5 1039.8L1610.5 1042.8L1610.5 1045.8L1610.5 1048.8L1610.5 1051.8L1610.5 1054.8L1610.5 1057.8L1610.5 1060.8L1610.5 1063.8L1610.5 1066.8L1610.5 1069.8L1610.5 1072.8L1610.5 1075.8L1610.5 1078.8L1610.5 1081.8L1610.5 1084.8L1610.5 1087.8L1610.5 1090.8L1610.5 1093.8L1610.5 1096.8L1610.5 1099.8L1610.5 1102.8L1610.5 1105.8L1610.5 1108.8L1610.6 1111.8L1610.6 1114.8L1610.6 1117.9L1610.5 1120.9L1610.5 1123.9L1610.5 1126.9L1610.5 1129.9L1610.5 1132.9L1610.5 1135.9L1610.5 1138.9L1610.5 1141.9L1610.5 1144.9L1610.5 1147.9L1610.5 1150.9L1610.5 1153.9L1610.5 1157.0L1610.5 1160.0L1610.5 1163.0L1610.5 1166.0L1610.5 1169.0L1610.5 1172.0" fill="none" stroke="#EDB120" stroke-width="4" stroke-linejoin="round" stroke-linecap="round"/>
<path d="M823.5 580.5C827.8 580.5 844.8 580.5 849.0 580.5" fill="none" stroke="#EDB120" stroke-width="4" stroke-linejoin="round" stroke-linecap="round"/>
<path d="M818.0 573.5C818.8 574.0 821.0 575.7 822.5 576.8C824.0 577.9 826.2 579.5 827.0 580.0" fill="none" stroke="#EDB120" stroke-width="4" stroke-linejoin="round" stroke-linecap="round"/>
<rect x="1258.3" y="102.6" width="352.2" height="205.3" fill="#fff" stroke="#262626" stroke-width="2.6"/>
<line x1="1271.7" y1="141.3" x2="1404.5" y2="141.3" stroke="#0072BD" stroke-width="4"/>
<text transform="translate(1413.50 160.30)" x="0.00" text-anchor="start" style="font-size:47.60px;fill:#000;letter-spacing:0.70px;">Req=0.5</text>
<line x1="1271.7" y1="206.9" x2="1404.5" y2="206.9" stroke="#D95319" stroke-width="4"/>
<text transform="translate(1413.50 225.90)" x="0.00" text-anchor="start" style="font-size:47.60px;fill:#000;letter-spacing:0.70px;">Req=2</text>
<line x1="1271.7" y1="271.4" x2="1404.5" y2="271.4" stroke="#EDB120" stroke-width="4"/>
<text transform="translate(1413.50 290.40)" x="0.00" text-anchor="start" style="font-size:47.60px;fill:#000;letter-spacing:0.70px;">Req=5</text>
<text transform="translate(904.60 1296.00) scale(0.9590 1)" x="0.00" text-anchor="middle" style="font-size:51.20px;fill:#000;">Open-Loop Phase (deg)</text>
<text transform="translate(73.50 641.90) rotate(-90) scale(0.9350 1)" x="0.00" text-anchor="middle" style="font-size:51.80px;fill:#000;">Open-Loop Gain (dB)</text>
<text x="856" y="1418.0" text-anchor="middle" style="font-family:'Liberation Serif','Times New Roman',serif;font-size:86.0px;fill:#000;">(<tspan style="font-weight:bold">a</tspan>)</text>
<text transform="translate(906.00 1583.90) scale(0.9520 1)" x="0.00" text-anchor="middle" style="font-size:51.20px;fill:#000;">Nichols Chart</text>
<rect x="206.9" y="1613.6" width="1406.5" height="4.4" fill="#adadad"/>
<rect x="1608.2" y="1613.6" width="4.6" height="1072.9" fill="#a8a8a8"/>
<rect x="205.9" y="1616.0" width="2.2" height="1068.5" fill="#d6d6d6"/>
<rect x="208.1" y="1613.6" width="3" height="1072.9" fill="#8a8a8a"/>
<rect x="208.9" y="2682.5" width="1402.5" height="2" fill="#c8c8c8"/>
<rect x="208.1" y="2684.5" width="1404.5" height="2.4" fill="#8a8a8a"/>
<rect x="207.7" y="1615.0" width="2.4" height="15" fill="#777"/>
<rect x="207.7" y="2670.5" width="2.4" height="15" fill="#777"/>
<rect x="335.2" y="1615.0" width="2.4" height="15" fill="#777"/>
<rect x="335.2" y="2670.5" width="2.4" height="15" fill="#777"/>
<rect x="462.7" y="1615.0" width="2.4" height="15" fill="#777"/>
<rect x="462.7" y="2670.5" width="2.4" height="15" fill="#777"/>
<rect x="590.2" y="1615.0" width="2.4" height="15" fill="#777"/>
<rect x="590.2" y="2670.5" width="2.4" height="15" fill="#777"/>
<rect x="717.7" y="1615.0" width="2.4" height="15" fill="#777"/>
<rect x="717.7" y="2670.5" width="2.4" height="15" fill="#777"/>
<rect x="845.2" y="1615.0" width="2.4" height="15" fill="#777"/>
<rect x="845.2" y="2670.5" width="2.4" height="15" fill="#777"/>
<rect x="972.7" y="1615.0" width="2.4" height="15" fill="#777"/>
<rect x="972.7" y="2670.5" width="2.4" height="15" fill="#777"/>
<rect x="1100.2" y="1615.0" width="2.4" height="15" fill="#777"/>
<rect x="1100.2" y="2670.5" width="2.4" height="15" fill="#777"/>
<rect x="1227.7" y="1615.0" width="2.4" height="15" fill="#777"/>
<rect x="1227.7" y="2670.5" width="2.4" height="15" fill="#777"/>
<rect x="1355.2" y="1615.0" width="2.4" height="15" fill="#777"/>
<rect x="1355.2" y="2670.5" width="2.4" height="15" fill="#777"/>
<rect x="1482.7" y="1615.0" width="2.4" height="15" fill="#777"/>
<rect x="1482.7" y="2670.5" width="2.4" height="15" fill="#777"/>
<rect x="1610.2" y="1615.0" width="2.4" height="15" fill="#777"/>
<rect x="1610.2" y="2670.5" width="2.4" height="15" fill="#777"/>
<rect x="208.9" y="1614.8" width="15" height="2.4" fill="#777"/>
<rect x="1596.4" y="1614.8" width="15" height="2.4" fill="#777"/>
<rect x="208.9" y="1748.4" width="15" height="2.4" fill="#777"/>
<rect x="1596.4" y="1748.4" width="15" height="2.4" fill="#777"/>
<rect x="208.9" y="1881.9" width="15" height="2.4" fill="#777"/>
<rect x="1596.4" y="1881.9" width="15" height="2.4" fill="#777"/>
<rect x="208.9" y="2015.5" width="15" height="2.4" fill="#777"/>
<rect x="1596.4" y="2015.5" width="15" height="2.4" fill="#777"/>
<rect x="208.9" y="2149.1" width="15" height="2.4" fill="#777"/>
<rect x="1596.4" y="2149.1" width="15" height="2.4" fill="#777"/>
<rect x="208.9" y="2282.6" width="15" height="2.4" fill="#777"/>
<rect x="1596.4" y="2282.6" width="15" height="2.4" fill="#777"/>
<rect x="208.9" y="2416.2" width="15" height="2.4" fill="#777"/>
<rect x="1596.4" y="2416.2" width="15" height="2.4" fill="#777"/>
<rect x="208.9" y="2549.7" width="15" height="2.4" fill="#777"/>
<rect x="1596.4" y="2549.7" width="15" height="2.4" fill="#777"/>
<rect x="208.9" y="2683.3" width="15" height="2.4" fill="#777"/>
<rect x="1596.4" y="2683.3" width="15" height="2.4" fill="#777"/>
<line x1="210.9" y1="1883.4" x2="1609.4" y2="1883.4" stroke="#9a9a9a" stroke-width="2.3" stroke-dasharray="2.8 10.47" stroke-dashoffset="1.5"/>
<text transform="translate(188.20 1634.60)" x="2.00" text-anchor="end" style="font-size:51.50px;fill:#666;letter-spacing:2.00px;">40</text>
<text transform="translate(188.20 1768.16)" x="2.00" text-anchor="end" style="font-size:51.50px;fill:#666;letter-spacing:2.00px;">20</text>
<text transform="translate(188.20 1901.72)" x="2.00" text-anchor="end" style="font-size:51.50px;fill:#666;letter-spacing:2.00px;">0</text>
<text transform="translate(185.20 2035.29)" x="2.00" text-anchor="end" style="font-size:51.50px;fill:#666;letter-spacing:2.00px;">-20</text>
<text transform="translate(185.20 2168.85)" x="2.00" text-anchor="end" style="font-size:51.50px;fill:#666;letter-spacing:2.00px;">-40</text>
<text transform="translate(185.20 2302.41)" x="2.00" text-anchor="end" style="font-size:51.50px;fill:#666;letter-spacing:2.00px;">-60</text>
<text transform="translate(185.20 2435.97)" x="2.00" text-anchor="end" style="font-size:51.50px;fill:#666;letter-spacing:2.00px;">-80</text>
<text transform="translate(185.20 2569.54)" x="2.00" text-anchor="end" style="font-size:51.50px;fill:#666;letter-spacing:2.00px;">-100</text>
<text transform="translate(185.20 2703.10)" x="2.00" text-anchor="end" style="font-size:51.50px;fill:#666;letter-spacing:2.00px;">-120</text>
<text transform="translate(206.30 2757.70)" x="1.00" text-anchor="middle" style="font-size:51.50px;fill:#666;letter-spacing:2.00px;">-225</text>
<text transform="translate(333.80 2757.70)" x="1.00" text-anchor="middle" style="font-size:51.50px;fill:#666;letter-spacing:2.00px;">-180</text>
<text transform="translate(461.30 2757.70)" x="1.00" text-anchor="middle" style="font-size:51.50px;fill:#666;letter-spacing:2.00px;">-135</text>
<text transform="translate(587.00 2757.70)" x="1.00" text-anchor="middle" style="font-size:51.50px;fill:#666;letter-spacing:2.00px;">-90</text>
<text transform="translate(715.00 2757.70)" x="1.00" text-anchor="middle" style="font-size:51.50px;fill:#666;letter-spacing:2.00px;">-45</text>
<text transform="translate(844.20 2757.70)" x="1.00" text-anchor="middle" style="font-size:51.50px;fill:#666;letter-spacing:2.00px;">0</text>
<text transform="translate(971.90 2757.70)" x="1.00" text-anchor="middle" style="font-size:51.50px;fill:#666;letter-spacing:2.00px;">45</text>
<text transform="translate(1098.30 2757.70)" x="1.00" text-anchor="middle" style="font-size:51.50px;fill:#666;letter-spacing:2.00px;">90</text>
<text transform="translate(1227.00 2757.70)" x="1.00" text-anchor="middle" style="font-size:51.50px;fill:#666;letter-spacing:2.00px;">135</text>
<text transform="translate(1354.40 2757.70)" x="1.00" text-anchor="middle" style="font-size:51.50px;fill:#666;letter-spacing:2.00px;">180</text>
<text transform="translate(1478.90 2757.70)" x="1.00" text-anchor="middle" style="font-size:51.50px;fill:#666;letter-spacing:2.00px;">225</text>
<text transform="translate(1607.00 2757.70)" x="1.00" text-anchor="middle" style="font-size:51.50px;fill:#666;letter-spacing:2.00px;">270</text>
<path d="M321.4 1883.1H349.4M335.4 1869.1V1897.1" stroke="#ff0000" stroke-width="2.6" fill="none"/>
<path d="M1341.4 1883.1H1369.4M1355.4 1869.1V1897.1" stroke="#ff0000" stroke-width="2.6" fill="none"/>
<path d="M842.9 2154.9L842.7 2157.7L842.5 2160.6L842.2 2163.4L842.0 2166.3L841.8 2169.2L841.5 2172.1L841.2 2175.0L841.0 2178.0L840.7 2180.9L840.4 2183.9L840.1 2186.9L839.7 2189.9L839.4 2192.9L839.0 2195.9L838.7 2198.9L838.3 2201.9L837.8 2204.9L837.4 2208.0L836.9 2211.0L836.5 2214.0L836.0 2217.0L835.4 2220.0L834.9 2223.1L834.3 2226.1L833.7 2229.1L833.0 2232.1L832.4 2235.1L831.7 2238.0L830.9 2241.0L830.2 2243.9L829.4 2246.9L828.5 2249.8L827.6 2252.7L826.7 2255.6L825.8 2258.4L824.8 2261.3L823.8 2264.1L822.7 2266.9L821.6 2269.6L820.4 2272.4L819.2 2275.1L818.0 2277.8L816.7 2280.4L815.3 2283.0L814.0 2285.6L812.5 2288.2L811.0 2290.7L809.5 2293.2L807.9 2295.6L806.2 2298.0L804.5 2300.4L802.8 2302.7L801.0 2305.0L799.1 2307.2L797.2 2309.4L795.3 2311.6L793.3 2313.7L791.3 2315.8L789.2 2317.9L787.1 2319.9L784.9 2321.9L782.7 2323.8L780.4 2325.7L778.2 2327.6L775.8 2329.4L773.5 2331.2L771.1 2333.0L768.7 2334.7L766.2 2336.4L763.7 2338.1L761.2 2339.7L758.7 2341.3L756.1 2342.9L753.5 2344.4L750.8 2345.9L748.2 2347.3L745.5 2348.8L742.8 2350.1L740.0 2351.5L737.3 2352.8L734.5 2354.1L731.7 2355.4L728.9 2356.6L726.1 2357.8L723.3 2359.0L720.4 2360.1L717.5 2361.2L714.6 2362.3L711.7 2363.3L708.8 2364.4L705.9 2365.3L703.0 2366.3L700.1 2367.2L697.1 2368.1L694.2 2369.0L691.2 2369.8L688.3 2370.6L685.3 2371.4L682.4 2372.2L679.4 2372.9L676.4 2373.6L673.5 2374.3L670.5 2374.9L667.6 2375.5L664.6 2376.1L661.6 2376.7L658.7 2377.2L655.7 2377.7L652.7 2378.2L649.8 2378.7L646.8 2379.1L643.8 2379.5L640.9 2379.9L637.9 2380.3L634.9 2380.6L631.9 2381.0L629.0 2381.3L626.0 2381.5L623.0 2381.8L620.0 2382.0L617.1 2382.2L614.1 2382.4L611.1 2382.6L608.1 2382.7L605.1 2382.8L602.2 2382.9L599.2 2383.0L596.2 2383.1L593.2 2383.1L590.2 2383.1L587.3 2383.1L584.3 2383.1L581.3 2383.1L578.3 2383.0L575.3 2383.0L572.3 2382.9L569.4 2382.8L566.4 2382.6L563.4 2382.5L560.4 2382.3L557.4 2382.2L554.4 2382.0L551.4 2381.8L548.5 2381.5L545.5 2381.3L542.5 2381.1L539.5 2380.8L536.5 2380.5L533.5 2380.2L530.5 2379.9L527.6 2379.5L524.6 2379.2L521.6 2378.8L518.6 2378.4L515.7 2378.0L512.7 2377.5L509.8 2377.0L506.8 2376.5L503.9 2376.0L500.9 2375.5L498.0 2374.9L495.1 2374.3L492.1 2373.6L489.2 2373.0L486.3 2372.3L483.4 2371.6L480.5 2370.8L477.7 2370.0L474.8 2369.2L471.9 2368.3L469.1 2367.5L466.3 2366.5L463.4 2365.6L460.6 2364.6L457.8 2363.5L455.0 2362.5L452.3 2361.4L449.5 2360.2L446.8 2359.0L444.0 2357.8L441.3 2356.5L438.6 2355.2L435.9 2353.8L433.3 2352.4L430.6 2351.0L428.0 2349.5L425.4 2347.9L422.8 2346.4L420.2 2344.7L417.6 2343.1L415.1 2341.4L412.6 2339.6L410.1 2337.8L407.6 2336.0L405.2 2334.1L402.8 2332.2L400.4 2330.2L398.1 2328.2L395.8 2326.2L393.5 2324.1L391.3 2322.0L389.1 2319.9L386.9 2317.7L384.8 2315.5L382.7 2313.3L380.6 2311.1L378.6 2308.8L376.7 2306.4L374.7 2304.1L372.9 2301.7L371.0 2299.3L369.2 2296.8L367.5 2294.4L365.8 2291.9L364.2 2289.4L362.6 2286.8L361.1 2284.3L359.6 2281.7L358.2 2279.1L356.8 2276.5L355.5 2273.8L354.3 2271.1L353.1 2268.4L351.9 2265.7L350.8 2263.0L349.8 2260.2L348.7 2257.5L347.8 2254.7L346.9 2251.9L346.0 2249.1L345.2 2246.3L344.4 2243.4L343.6 2240.6L342.9 2237.7L342.2 2234.8L341.6 2231.9L340.9 2229.0L340.4 2226.1L339.8 2223.1L339.3 2220.2L338.8 2217.3L338.3 2214.3L337.8 2211.3L337.4 2208.4L337.0 2205.4L336.6 2202.4L336.3 2199.4L335.9 2196.4L335.6 2193.4L335.3 2190.4L335.0 2187.4L334.7 2184.3L334.4 2181.3L334.1 2178.3L333.8 2175.3L333.6 2172.3L333.3 2169.2L333.1 2166.2L332.8 2163.2L332.6 2160.2L332.3 2157.2L332.1 2154.2L331.8 2151.1L331.6 2148.1L331.3 2145.1L331.1 2142.1L330.8 2139.1L330.5 2136.1L330.3 2133.1L330.0 2130.1L329.7 2127.1L329.5 2124.2L329.2 2121.2L329.0 2118.2L328.7 2115.2L328.4 2112.2L328.2 2109.2L327.9 2106.2L327.6 2103.3L327.4 2100.3L327.1 2097.3L326.8 2094.3L326.6 2091.3L326.3 2088.4L326.1 2085.4L325.8 2082.4L325.5 2079.4L325.3 2076.5L325.0 2073.5L324.8 2070.5L324.5 2067.5L324.3 2064.6L324.0 2061.6L323.8 2058.6L323.6 2055.6L323.3 2052.7L323.1 2049.7L322.8 2046.7L322.6 2043.7L322.4 2040.7L322.2 2037.8L321.9 2034.8L321.7 2031.8L321.5 2028.8L321.3 2025.8L321.1 2022.9L320.9 2019.9L320.7 2016.9L320.5 2013.9L320.3 2010.9L320.1 2007.9L319.9 2004.9L319.8 2001.9L319.6 1998.9L319.4 1995.9L319.3 1992.9L319.1 1989.9L319.0 1986.9L318.8 1983.9L318.7 1980.9L318.6 1977.9L318.4 1974.8L318.3 1971.8L318.2 1968.8L318.1 1965.8L318.0 1962.7L317.9 1959.7L317.9 1956.7L317.8 1953.7L317.8 1950.6L317.8 1947.6L317.7 1944.6L317.8 1941.6L317.8 1938.5L317.8 1935.5L317.9 1932.5L318.0 1929.5L318.1 1926.5L318.2 1923.5L318.4 1920.5L318.5 1917.5L318.7 1914.5L319.0 1911.5L319.2 1908.5L319.5 1905.5L319.8 1902.6L320.1 1899.6L320.5 1896.7L320.9 1893.7L321.3 1890.8L321.8 1887.8L322.3 1884.9L322.8 1882.0L323.4 1879.1L324.0 1876.2L324.6 1873.3L325.3 1870.4L326.0 1867.5L326.8 1864.7L327.6 1861.8L328.5 1859.0L329.3 1856.2L330.3 1853.4L331.3 1850.6L332.3 1847.8L333.4 1845.0L334.5 1842.2L335.6 1839.5L336.9 1836.8L338.1 1834.1L339.4 1831.4L340.8 1828.7L342.2 1826.0L343.6 1823.4L345.1 1820.7L346.7 1818.1L348.2 1815.5L349.9 1813.0L351.5 1810.4L353.2 1807.9L354.9 1805.4L356.7 1802.9L358.5 1800.5L360.3 1798.1L362.2 1795.7L364.1 1793.3L366.0 1791.0L367.9 1788.7L369.9 1786.4L371.9 1784.2L374.0 1782.0L376.0 1779.8L378.1 1777.6L380.2 1775.5L382.4 1773.4L384.5 1771.4L386.7 1769.4L388.9 1767.4L391.2 1765.4L393.4 1763.5L395.7 1761.6L398.0 1759.7L400.3 1757.9L402.7 1756.1L405.0 1754.3L407.4 1752.5L409.8 1750.8L412.3 1749.1L414.7 1747.4L417.2 1745.8L419.7 1744.2L422.2 1742.6L424.7 1741.0L427.2 1739.5L429.8 1738.0L432.3 1736.5L434.9 1735.1L437.5 1733.7L440.1 1732.3L442.8 1730.9L445.4 1729.5L448.1 1728.2L450.7 1726.9L453.4 1725.6L456.1 1724.4L458.8 1723.2L461.6 1722.0L464.3 1720.8L467.1 1719.7L469.8 1718.5L472.6 1717.4L475.4 1716.3L478.2 1715.3L481.0 1714.3L483.8 1713.2L486.7 1712.3L489.5 1711.3L492.4 1710.3L495.2 1709.4L498.1 1708.5L501.0 1707.6L503.9 1706.8L506.8 1706.0L509.7 1705.1L512.6 1704.3L515.5 1703.6L518.4 1702.8L521.4 1702.1L524.3 1701.4L527.2 1700.7L530.2 1700.0L533.1 1699.4L536.1 1698.7L539.1 1698.1L542.1 1697.5L545.0 1696.9L548.0 1696.4L551.0 1695.8L554.0 1695.3L557.0 1694.8L560.0 1694.3L563.0 1693.8L566.0 1693.4L569.0 1692.9L572.0 1692.5L575.0 1692.1L578.0 1691.7L581.0 1691.4L584.0 1691.0L587.0 1690.7L590.1 1690.3L593.1 1690.0L596.1 1689.7L599.1 1689.5L602.1 1689.2L605.1 1688.9L608.1 1688.7L611.1 1688.5L614.1 1688.3L617.1 1688.1L620.1 1687.9L623.1 1687.7L626.1 1687.6L629.1 1687.4L632.1 1687.3L635.1 1687.2L638.1 1687.1L641.1 1687.0L644.1 1687.0L647.1 1686.9L650.1 1686.8L653.1 1686.8L656.0 1686.8L659.0 1686.8L662.0 1686.8L665.0 1686.8L668.0 1686.8L671.0 1686.8L674.0 1686.9L676.9 1686.9L679.9 1687.0L682.9 1687.1L685.9 1687.2L688.9 1687.3L691.8 1687.4L694.8 1687.5L697.8 1687.6L700.8 1687.7L703.7 1687.9L706.7 1688.0L709.7 1688.2L712.7 1688.4L715.6 1688.6L718.6 1688.8L721.6 1689.0L724.6 1689.2L727.5 1689.4L730.5 1689.6L733.5 1689.8L736.5 1690.1L739.4 1690.3L742.4 1690.6L745.4 1690.9L748.3 1691.1L751.3 1691.4L754.3 1691.7L757.2 1692.0L760.2 1692.3L763.2 1692.6L766.2 1692.9L769.1 1693.2L772.1 1693.6L775.1 1693.9L778.0 1694.2L781.0 1694.6L784.0 1694.9L787.0 1695.3L789.9 1695.6L792.9 1696.0L795.9 1696.4L798.8 1696.8L801.8 1697.1L804.8 1697.5L807.8 1697.9L810.7 1698.3L813.7 1698.7L816.7 1699.1L819.7 1699.5L822.6 1699.9L825.6 1700.4L828.6 1700.8L831.6 1701.2L834.5 1701.6L837.5 1702.1L840.5 1702.5L843.5 1702.9L846.5 1703.4L849.4 1703.8L852.4 1704.3L855.4 1704.7L858.4 1705.2L861.4 1705.6L864.3 1706.1L867.3 1706.5L870.3 1707.0L873.3 1707.5L876.3 1707.9L879.3 1708.4L882.3 1708.9L885.3 1709.3L888.3 1709.8L891.2 1710.3L894.2 1710.8L897.2 1711.2L900.2 1711.7L903.2 1712.2L906.2 1712.7L909.2 1713.2L912.2 1713.7L915.1 1714.3L918.1 1714.8L921.1 1715.3L924.1 1715.8L927.0 1716.4L930.0 1717.0L933.0 1717.5L935.9 1718.1L938.9 1718.7L941.9 1719.3L944.8 1719.9L947.8 1720.5L950.7 1721.1L953.6 1721.8L956.6 1722.4L959.5 1723.1L962.4 1723.8L965.3 1724.4L968.3 1725.2L971.2 1725.9L974.1 1726.6L977.0 1727.4L979.8 1728.1L982.7 1728.9L985.6 1729.7L988.5 1730.5L991.3 1731.3L994.2 1732.2L997.0 1733.1L999.9 1733.9L1002.7 1734.8L1005.5 1735.8L1008.3 1736.7L1011.1 1737.7L1013.9 1738.6L1016.7 1739.6L1019.4 1740.7L1022.2 1741.7L1025.0 1742.8L1027.7 1743.9L1030.4 1745.0L1033.1 1746.1L1035.8 1747.3L1038.5 1748.5L1041.2 1749.7L1043.9 1750.9L1046.6 1752.2L1049.2 1753.4L1051.8 1754.7L1054.5 1756.1L1057.1 1757.4L1059.7 1758.8L1062.3 1760.3L1064.8 1761.7L1067.4 1763.2L1069.9 1764.7L1072.5 1766.2L1075.0 1767.8L1077.5 1769.4L1080.0 1771.0L1082.4 1772.6L1084.9 1774.3L1087.3 1776.0L1089.7 1777.8L1092.1 1779.5L1094.5 1781.3L1096.8 1783.1L1099.1 1785.0L1101.4 1786.9L1103.7 1788.8L1106.0 1790.7L1108.2 1792.7L1110.4 1794.7L1112.5 1796.7L1114.7 1798.8L1116.8 1800.9L1118.8 1803.0L1120.9 1805.1L1122.9 1807.3L1124.9 1809.5L1126.8 1811.7L1128.7 1814.0L1130.5 1816.3L1132.4 1818.6L1134.1 1820.9L1135.9 1823.3L1137.6 1825.7L1139.2 1828.1L1140.8 1830.6L1142.4 1833.1L1143.9 1835.6L1145.4 1838.1L1146.8 1840.7L1148.2 1843.3L1149.5 1845.9L1150.8 1848.5L1152.1 1851.2L1153.2 1853.9L1154.4 1856.6L1155.4 1859.4L1156.5 1862.1L1157.4 1864.9L1158.3 1867.8L1159.2 1870.6L1160.0 1873.5L1160.7 1876.4L1161.4 1879.4L1162.0 1882.3L1162.5 1885.3L1163.0 1888.3L1163.4 1891.4L1163.8 1894.4L1164.1 1897.5L1164.4 1900.6L1164.7 1903.7L1164.9 1906.8L1165.2 1909.9L1165.4 1913.0L1165.7 1916.1L1166.0 1919.2L1166.3 1922.2L1166.7 1925.3L1167.1 1928.3L1167.6 1931.3L1168.1 1934.3L1168.7 1937.2L1169.4 1940.1L1170.3 1942.9L1171.2 1945.7L1172.2 1948.5L1173.3 1951.2L1174.6 1953.8L1175.9 1956.4L1177.3 1959.0L1178.8 1961.5L1180.4 1963.9L1182.1 1966.3L1183.8 1968.7L1185.6 1971.0L1187.5 1973.2L1189.5 1975.4L1191.6 1977.5L1193.7 1979.6L1195.8 1981.6L1198.1 1983.6L1200.3 1985.5L1202.7 1987.3L1205.1 1989.1L1207.5 1990.9L1210.0 1992.5L1212.5 1994.2L1215.1 1995.7L1217.7 1997.3L1220.3 1998.7L1223.0 2000.2L1225.7 2001.5L1228.4 2002.9L1231.1 2004.2L1233.9 2005.4L1236.7 2006.6L1239.6 2007.8L1242.4 2008.9L1245.3 2010.0L1248.1 2011.1L1251.0 2012.1L1253.9 2013.2L1256.8 2014.1L1259.7 2015.1L1262.7 2016.0L1265.6 2016.9L1268.5 2017.8L1271.4 2018.7L1274.3 2019.5L1277.2 2020.3L1280.1 2021.1L1283.0 2021.9L1285.9 2022.7L1288.8 2023.4L1291.7 2024.2L1294.6 2024.9L1297.4 2025.6L1300.3 2026.3L1303.2 2026.9L1306.1 2027.6L1309.0 2028.3L1311.9 2028.9L1314.7 2029.5L1317.6 2030.1L1320.5 2030.8L1323.4 2031.4L1326.3 2031.9L1329.2 2032.5L1332.0 2033.1L1334.9 2033.7L1337.8 2034.2L1340.7 2034.8L1343.6 2035.3L1346.5 2035.9L1349.4 2036.4L1352.3 2037.0L1355.2 2037.5L1358.1 2038.1L1361.0 2038.6L1363.9 2039.2L1366.8 2039.7L1369.7 2040.2L1372.6 2040.8L1375.6 2041.3L1378.5 2041.9L1381.4 2042.4L1384.4 2043.0L1387.3 2043.6L1390.2 2044.1L1393.2 2044.7L1396.2 2045.3L1399.1 2045.9L1402.1 2046.5L1405.1 2047.1L1408.0 2047.7L1411.0 2048.3L1414.0 2048.9L1417.0 2049.6L1420.0 2050.3L1423.0 2050.9L1426.0 2051.6L1429.0 2052.3L1432.0 2053.0L1435.0 2053.8L1438.0 2054.5L1441.0 2055.3L1444.0 2056.1L1446.9 2056.9L1449.9 2057.7L1452.9 2058.5L1455.8 2059.4L1458.8 2060.3L1461.7 2061.2L1464.6 2062.1L1467.6 2063.0L1470.5 2064.0L1473.4 2065.0L1476.2 2066.0L1479.1 2067.1L1482.0 2068.1L1484.8 2069.2L1487.6 2070.3L1490.4 2071.5L1493.2 2072.7L1495.9 2073.9L1498.7 2075.1L1501.4 2076.4L1504.1 2077.7L1506.7 2079.1L1509.4 2080.4L1512.0 2081.8L1514.6 2083.3L1517.1 2084.7L1519.7 2086.2L1522.2 2087.8L1524.7 2089.4L1527.1 2091.0L1529.5 2092.6L1531.9 2094.3L1534.2 2096.1L1536.6 2097.9L1538.8 2099.7L1541.1 2101.5L1543.3 2103.4L1545.5 2105.4L1547.6 2107.4L1549.7 2109.4L1551.7 2111.5L1553.7 2113.6L1555.7 2115.8L1557.6 2118.0L1559.5 2120.2L1561.3 2122.6L1563.1 2124.9L1564.9 2127.3L1566.6 2129.8L1568.2 2132.3L1569.8 2134.8L1571.3 2137.4L1572.8 2140.1L1574.3 2142.7L1575.6 2145.4L1576.9 2148.1L1578.2 2150.8L1579.3 2153.6L1580.4 2156.3L1581.5 2159.0L1582.4 2161.8L1583.3 2164.5L1584.2 2167.2L1585.1 2170.0L1586.1 2172.7L1587.1 2175.5L1588.1 2178.3L1589.0 2181.1L1590.0 2183.9L1590.8 2186.8L1591.7 2189.6L1592.4 2192.5L1593.2 2195.4L1593.9 2198.3L1594.5 2201.2L1595.1 2204.1L1595.7 2207.0L1596.2 2209.9L1596.7 2212.9L1597.2 2215.8L1597.7 2218.8L1598.1 2221.7L1598.5 2224.7L1598.9 2227.7L1599.2 2230.6L1599.6 2233.6L1599.9 2236.6L1600.2 2239.6L1600.5 2242.6L1600.7 2245.6L1601.0 2248.6L1601.3 2251.6L1601.5 2254.6L1601.8 2257.6L1602.0 2260.6L1602.2 2263.6L1602.5 2266.6L1602.7 2269.6L1602.9 2272.6L1603.2 2275.6L1603.4 2278.6L1603.6 2281.6L1603.8 2284.6L1604.0 2287.6L1604.2 2290.6L1604.4 2293.6L1604.5 2296.6L1604.7 2299.6L1604.9 2302.6L1605.1 2305.6L1605.2 2308.6L1605.4 2311.6L1605.6 2314.6L1605.7 2317.6L1605.9 2320.6L1606.0 2323.6L1606.2 2326.6L1606.3 2329.6L1606.4 2332.6L1606.6 2335.6L1606.7 2338.6L1606.8 2341.6L1606.9 2344.6L1607.0 2347.6L1607.2 2350.6L1607.3 2353.6L1607.4 2356.6L1607.5 2359.6L1607.6 2362.6L1607.7 2365.6L1607.8 2368.6L1607.8 2371.6L1607.9 2374.6L1608.0 2377.6L1608.1 2380.6L1608.2 2383.6L1608.2 2386.6L1608.3 2389.6L1608.4 2392.6L1608.4 2395.6L1608.5 2398.6L1608.6 2401.6L1608.6 2404.6L1608.7 2407.6L1608.7 2410.6L1608.8 2413.6L1608.8 2416.6L1608.9 2419.6L1608.9 2422.6L1608.9 2425.7L1609.0 2428.7L1609.0 2431.7L1609.1 2434.7L1609.1 2437.7L1609.1 2440.7L1609.2 2443.7L1609.2 2446.7L1609.2 2449.7L1609.2 2452.7L1609.2 2455.7L1609.3 2458.7L1609.3 2461.7L1609.3 2464.7L1609.3 2467.7L1609.3 2470.7L1609.3 2473.7L1609.4 2476.7L1609.4 2479.7L1609.4 2482.7L1609.4 2485.7L1609.4 2488.7L1609.4 2491.7L1609.4 2494.7L1609.4 2497.8L1609.4 2500.8L1609.4 2503.8L1609.4 2506.8L1609.4 2509.8L1609.4 2512.8L1609.4 2515.8L1609.4 2518.8L1609.4 2521.8L1609.4 2524.8L1609.4 2527.8L1609.4 2530.8L1609.4 2533.8L1609.4 2536.8L1609.4 2539.8L1609.4 2542.8L1609.4 2545.8L1609.4 2548.8L1609.4 2551.8L1609.4 2554.8L1609.4 2557.8L1609.4 2560.8L1609.4 2563.8L1609.4 2566.9L1609.4 2569.9L1609.4 2572.9L1609.4 2575.9L1609.4 2578.9L1609.4 2581.9L1609.4 2584.9L1609.4 2587.9L1609.4 2590.9L1609.5 2593.9L1609.5 2596.9L1609.5 2599.9L1609.5 2602.9L1609.5 2605.9L1609.5 2608.9L1609.5 2611.9L1609.5 2614.9L1609.6 2617.9L1609.6 2620.9L1609.6 2623.9L1609.6 2626.9L1609.6 2629.9L1609.7 2632.9L1609.7 2635.9L1609.7 2638.9L1609.7 2642.0L1609.8 2645.0L1609.8 2648.0L1609.8 2651.0L1609.9 2654.0L1609.9 2657.0L1610.0 2660.0L1610.0 2663.0L1610.1 2666.0L1610.1 2669.0L1610.2 2672.0L1610.2 2675.0L1610.3 2678.0L1610.3 2681.0L1610.4 2684.0" fill="none" stroke="#0072BD" stroke-width="4" stroke-linejoin="round" stroke-linecap="round"/>
<path d="M833.8 2153.4L833.6 2156.5L833.5 2159.5L833.4 2162.5L833.4 2165.5L833.3 2168.5L833.2 2171.5L833.2 2174.5L833.1 2177.4L833.1 2180.4L833.0 2183.4L832.9 2186.4L832.8 2189.3L832.7 2192.3L832.5 2195.3L832.4 2198.3L832.2 2201.2L831.9 2204.2L831.7 2207.2L831.4 2210.1L831.0 2213.1L830.6 2216.1L830.1 2219.1L829.7 2222.1L829.1 2225.0L828.5 2228.0L827.9 2231.0L827.2 2233.9L826.5 2236.9L825.8 2239.8L824.9 2242.7L824.1 2245.6L823.2 2248.5L822.2 2251.4L821.2 2254.3L820.2 2257.1L819.1 2259.9L818.0 2262.7L816.8 2265.5L815.6 2268.2L814.3 2271.0L813.0 2273.7L811.6 2276.3L810.2 2278.9L808.8 2281.5L807.3 2284.1L805.7 2286.6L804.1 2289.1L802.4 2291.6L800.8 2294.0L799.0 2296.4L797.2 2298.7L795.4 2301.0L793.5 2303.2L791.6 2305.4L789.6 2307.6L787.6 2309.7L785.5 2311.8L783.4 2313.8L781.2 2315.8L779.0 2317.7L776.8 2319.6L774.5 2321.5L772.2 2323.3L769.9 2325.1L767.5 2326.9L765.1 2328.6L762.7 2330.2L760.2 2331.9L757.7 2333.5L755.1 2335.0L752.6 2336.5L750.0 2338.0L747.4 2339.5L744.7 2340.9L742.0 2342.2L739.3 2343.6L736.6 2344.9L733.8 2346.2L731.1 2347.4L728.3 2348.6L725.5 2349.8L722.6 2350.9L719.8 2352.0L716.9 2353.1L714.0 2354.1L711.1 2355.1L708.2 2356.1L705.3 2357.1L702.4 2358.0L699.4 2358.9L696.4 2359.7L693.5 2360.6L690.5 2361.4L687.5 2362.1L684.5 2362.9L681.5 2363.6L678.5 2364.3L675.5 2365.0L672.5 2365.6L669.5 2366.2L666.5 2366.8L663.5 2367.4L660.5 2367.9L657.5 2368.4L654.5 2368.9L651.5 2369.4L648.5 2369.9L645.5 2370.3L642.5 2370.7L639.5 2371.1L636.5 2371.4L633.5 2371.7L630.5 2372.0L627.5 2372.3L624.6 2372.6L621.6 2372.8L618.6 2373.1L615.6 2373.3L612.7 2373.4L609.7 2373.6L606.7 2373.7L603.7 2373.9L600.8 2373.9L597.8 2374.0L594.8 2374.1L591.9 2374.1L588.9 2374.1L585.9 2374.1L583.0 2374.1L580.0 2374.0L577.1 2374.0L574.1 2373.9L571.1 2373.8L568.2 2373.7L565.2 2373.5L562.2 2373.4L559.3 2373.2L556.3 2373.0L553.3 2372.8L550.4 2372.5L547.4 2372.3L544.4 2372.0L541.4 2371.7L538.5 2371.4L535.5 2371.1L532.5 2370.7L529.5 2370.4L526.5 2370.0L523.6 2369.6L520.6 2369.2L517.6 2368.7L514.6 2368.3L511.7 2367.8L508.7 2367.3L505.7 2366.7L502.8 2366.2L499.8 2365.6L496.9 2365.0L494.0 2364.4L491.0 2363.7L488.1 2363.0L485.2 2362.3L482.3 2361.5L479.4 2360.8L476.5 2360.0L473.6 2359.1L470.7 2358.3L467.9 2357.3L465.0 2356.4L462.2 2355.4L459.4 2354.4L456.5 2353.4L453.8 2352.3L451.0 2351.2L448.2 2350.1L445.5 2348.9L442.7 2347.7L440.0 2346.4L437.3 2345.1L434.6 2343.8L431.9 2342.4L429.3 2341.0L426.7 2339.6L424.1 2338.1L421.5 2336.5L418.9 2335.0L416.4 2333.3L413.8 2331.7L411.3 2329.9L408.8 2328.2L406.4 2326.4L404.0 2324.5L401.6 2322.6L399.2 2320.7L396.9 2318.7L394.5 2316.7L392.3 2314.6L390.0 2312.6L387.8 2310.4L385.7 2308.3L383.5 2306.1L381.4 2303.8L379.4 2301.5L377.4 2299.2L375.4 2296.9L373.5 2294.5L371.7 2292.1L369.8 2289.7L368.1 2287.2L366.4 2284.8L364.7 2282.2L363.1 2279.7L361.6 2277.1L360.1 2274.5L358.7 2271.9L357.3 2269.3L356.0 2266.6L354.8 2263.9L353.6 2261.2L352.4 2258.5L351.3 2255.8L350.3 2253.0L349.3 2250.2L348.4 2247.4L347.5 2244.6L346.7 2241.8L345.9 2238.9L345.1 2236.1L344.4 2233.2L343.7 2230.3L343.1 2227.4L342.5 2224.5L341.9 2221.5L341.4 2218.6L340.9 2215.7L340.4 2212.7L340.0 2209.7L339.6 2206.7L339.2 2203.8L338.8 2200.8L338.5 2197.8L338.2 2194.8L337.9 2191.7L337.6 2188.7L337.3 2185.7L337.1 2182.7L336.9 2179.6L336.7 2176.6L336.5 2173.6L336.3 2170.6L336.1 2167.5L335.9 2164.5L335.7 2161.5L335.6 2158.4L335.4 2155.4L335.3 2152.4L335.1 2149.4L335.0 2146.3L334.8 2143.3L334.7 2140.3L334.5 2137.3L334.4 2134.3L334.2 2131.3L334.1 2128.3L334.0 2125.3L333.8 2122.3L333.7 2119.3L333.6 2116.3L333.5 2113.3L333.4 2110.3L333.3 2107.3L333.2 2104.3L333.1 2101.3L333.0 2098.3L332.9 2095.3L332.8 2092.3L332.7 2089.3L332.6 2086.3L332.5 2083.3L332.5 2080.4L332.4 2077.4L332.3 2074.4L332.3 2071.4L332.2 2068.4L332.2 2065.4L332.2 2062.4L332.1 2059.4L332.1 2056.5L332.1 2053.5L332.0 2050.5L332.0 2047.5L332.0 2044.5L332.0 2041.5L332.0 2038.5L332.0 2035.5L332.0 2032.5L332.1 2029.6L332.1 2026.6L332.1 2023.6L332.2 2020.6L332.2 2017.6L332.3 2014.6L332.3 2011.6L332.4 2008.6L332.5 2005.6L332.5 2002.6L332.6 1999.6L332.7 1996.5L332.8 1993.5L332.9 1990.5L333.0 1987.5L333.2 1984.5L333.3 1981.5L333.4 1978.4L333.6 1975.4L333.7 1972.4L333.9 1969.4L334.1 1966.3L334.2 1963.3L334.4 1960.3L334.6 1957.3L334.9 1954.2L335.1 1951.2L335.4 1948.2L335.6 1945.2L335.9 1942.1L336.2 1939.1L336.5 1936.1L336.9 1933.1L337.2 1930.1L337.6 1927.1L338.0 1924.1L338.4 1921.2L338.9 1918.2L339.3 1915.2L339.8 1912.3L340.3 1909.3L340.9 1906.4L341.4 1903.4L342.0 1900.5L342.7 1897.6L343.3 1894.7L344.0 1891.8L344.7 1888.9L345.5 1886.1L346.2 1883.2L347.0 1880.4L347.9 1877.6L348.8 1874.7L349.7 1872.0L350.6 1869.2L351.6 1866.4L352.6 1863.7L353.7 1860.9L354.8 1858.2L356.0 1855.5L357.1 1852.9L358.4 1850.2L359.6 1847.6L360.9 1844.9L362.3 1842.3L363.7 1839.8L365.1 1837.2L366.6 1834.7L368.1 1832.2L369.7 1829.7L371.3 1827.2L372.9 1824.7L374.5 1822.3L376.2 1819.8L377.9 1817.4L379.5 1815.0L381.3 1812.6L383.0 1810.3L384.7 1807.9L386.5 1805.6L388.2 1803.3L390.1 1801.0L391.9 1798.7L393.7 1796.5L395.6 1794.3L397.6 1792.1L399.5 1789.9L401.5 1787.7L403.5 1785.6L405.6 1783.5L407.7 1781.5L409.8 1779.4L412.0 1777.4L414.2 1775.4L416.4 1773.4L418.7 1771.5L421.0 1769.6L423.3 1767.7L425.6 1765.8L428.0 1764.0L430.4 1762.2L432.8 1760.4L435.2 1758.6L437.7 1756.9L440.2 1755.2L442.7 1753.5L445.2 1751.8L447.8 1750.2L450.3 1748.6L452.9 1747.0L455.5 1745.4L458.1 1743.9L460.7 1742.4L463.4 1740.9L466.0 1739.4L468.7 1738.0L471.3 1736.6L474.0 1735.2L476.7 1733.8L479.4 1732.5L482.1 1731.2L484.8 1729.9L487.6 1728.6L490.3 1727.4L493.1 1726.2L495.8 1725.0L498.6 1723.8L501.4 1722.7L504.2 1721.6L507.0 1720.5L509.8 1719.4L512.6 1718.3L515.4 1717.3L518.2 1716.3L521.1 1715.3L523.9 1714.3L526.7 1713.4L529.6 1712.5L532.5 1711.6L535.3 1710.7L538.2 1709.8L541.1 1709.0L544.0 1708.2L546.9 1707.4L549.8 1706.6L552.7 1705.8L555.6 1705.1L558.5 1704.4L561.4 1703.7L564.4 1703.0L567.3 1702.3L570.2 1701.7L573.2 1701.1L576.1 1700.5L579.1 1699.9L582.0 1699.3L585.0 1698.8L587.9 1698.3L590.9 1697.7L593.8 1697.2L596.8 1696.8L599.8 1696.3L602.8 1695.9L605.7 1695.4L608.7 1695.0L611.7 1694.6L614.7 1694.3L617.7 1693.9L620.7 1693.6L623.6 1693.2L626.6 1692.9L629.6 1692.6L632.6 1692.4L635.6 1692.1L638.6 1691.8L641.6 1691.6L644.6 1691.4L647.6 1691.2L650.6 1691.0L653.6 1690.8L656.6 1690.7L659.6 1690.5L662.6 1690.4L665.6 1690.3L668.6 1690.2L671.6 1690.1L674.6 1690.0L677.6 1689.9L680.6 1689.9L683.6 1689.9L686.6 1689.8L689.6 1689.8L692.6 1689.8L695.6 1689.8L698.6 1689.9L701.6 1689.9L704.6 1690.0L707.6 1690.0L710.6 1690.1L713.6 1690.2L716.6 1690.3L719.6 1690.4L722.6 1690.5L725.6 1690.7L728.6 1690.8L731.6 1691.0L734.6 1691.1L737.6 1691.3L740.6 1691.5L743.6 1691.7L746.6 1691.9L749.6 1692.1L752.6 1692.4L755.6 1692.6L758.6 1692.9L761.6 1693.1L764.6 1693.4L767.6 1693.7L770.6 1694.0L773.6 1694.3L776.6 1694.6L779.6 1694.9L782.6 1695.2L785.6 1695.5L788.6 1695.9L791.6 1696.2L794.6 1696.6L797.6 1696.9L800.5 1697.3L803.5 1697.7L806.5 1698.1L809.5 1698.5L812.5 1698.9L815.5 1699.3L818.5 1699.7L821.5 1700.1L824.4 1700.6L827.4 1701.0L830.4 1701.5L833.4 1701.9L836.4 1702.4L839.3 1702.8L842.3 1703.3L845.3 1703.8L848.3 1704.3L851.2 1704.8L854.2 1705.3L857.2 1705.8L860.2 1706.3L863.1 1706.8L866.1 1707.3L869.1 1707.8L872.0 1708.3L875.0 1708.8L877.9 1709.4L880.9 1709.9L883.9 1710.5L886.8 1711.0L889.8 1711.6L892.7 1712.1L895.7 1712.7L898.6 1713.2L901.6 1713.8L904.5 1714.4L907.4 1714.9L910.4 1715.5L913.3 1716.1L916.3 1716.7L919.2 1717.3L922.1 1717.8L925.1 1718.4L928.0 1719.1L930.9 1719.7L933.8 1720.3L936.7 1720.9L939.7 1721.6L942.6 1722.2L945.5 1722.9L948.4 1723.5L951.3 1724.2L954.2 1724.9L957.1 1725.6L960.0 1726.3L962.9 1727.0L965.8 1727.8L968.6 1728.5L971.5 1729.3L974.4 1730.0L977.3 1730.8L980.1 1731.6L983.0 1732.4L985.8 1733.2L988.7 1734.1L991.5 1734.9L994.4 1735.8L997.2 1736.7L1000.1 1737.6L1002.9 1738.5L1005.7 1739.5L1008.5 1740.4L1011.3 1741.4L1014.2 1742.4L1017.0 1743.4L1019.8 1744.4L1022.5 1745.5L1025.3 1746.6L1028.1 1747.7L1030.9 1748.8L1033.7 1749.9L1036.4 1751.1L1039.2 1752.2L1041.9 1753.4L1044.7 1754.7L1047.4 1755.9L1050.1 1757.2L1052.9 1758.5L1055.6 1759.8L1058.3 1761.1L1061.0 1762.5L1063.7 1763.9L1066.4 1765.3L1069.1 1766.8L1071.8 1768.3L1074.4 1769.8L1077.1 1771.3L1079.8 1772.9L1082.4 1774.5L1085.1 1776.1L1087.7 1777.7L1090.3 1779.4L1092.9 1781.1L1095.5 1782.8L1098.1 1784.6L1100.7 1786.4L1103.2 1788.2L1105.8 1790.1L1108.3 1792.0L1110.7 1793.9L1113.2 1795.8L1115.6 1797.8L1117.9 1799.8L1120.3 1801.9L1122.5 1803.9L1124.8 1806.0L1127.0 1808.2L1129.1 1810.3L1131.2 1812.5L1133.2 1814.7L1135.2 1817.0L1137.1 1819.3L1138.9 1821.6L1140.7 1824.0L1142.4 1826.3L1144.0 1828.7L1145.5 1831.2L1147.0 1833.7L1148.4 1836.2L1149.7 1838.7L1150.9 1841.3L1152.1 1843.9L1153.1 1846.5L1154.1 1849.1L1154.9 1851.8L1155.7 1854.6L1156.3 1857.3L1156.9 1860.1L1157.3 1862.9L1157.7 1865.8L1158.0 1868.6L1158.2 1871.5L1158.4 1874.4L1158.4 1877.4L1158.4 1880.3L1158.3 1883.3L1158.2 1886.3L1157.9 1889.3L1157.6 1892.3L1157.3 1895.4L1156.9 1898.4L1156.4 1901.5L1155.9 1904.6L1155.3 1907.7L1154.6 1910.8L1154.0 1913.9L1153.2 1917.0L1152.5 1920.1L1151.7 1923.2L1151.0 1926.3L1150.3 1929.4L1149.6 1932.5L1148.9 1935.5L1148.4 1938.5L1148.0 1941.5L1147.6 1944.5L1147.4 1947.4L1147.4 1950.2L1147.5 1953.0L1147.8 1955.7L1148.3 1958.4L1149.0 1961.0L1149.9 1963.5L1151.0 1965.9L1152.3 1968.2L1153.8 1970.4L1155.5 1972.5L1157.3 1974.5L1159.3 1976.4L1161.4 1978.2L1163.7 1979.9L1166.1 1981.5L1168.6 1983.0L1171.2 1984.4L1173.9 1985.8L1176.6 1987.1L1179.5 1988.3L1182.4 1989.5L1185.3 1990.6L1188.3 1991.7L1191.3 1992.7L1194.3 1993.8L1197.3 1994.7L1200.4 1995.7L1203.4 1996.7L1206.4 1997.6L1209.4 1998.5L1212.4 1999.4L1215.4 2000.3L1218.4 2001.1L1221.4 2002.0L1224.4 2002.8L1227.4 2003.6L1230.3 2004.4L1233.3 2005.2L1236.3 2006.0L1239.3 2006.7L1242.2 2007.4L1245.2 2008.2L1248.2 2008.9L1251.1 2009.6L1254.1 2010.3L1257.0 2010.9L1260.0 2011.6L1262.9 2012.2L1265.9 2012.9L1268.8 2013.5L1271.8 2014.1L1274.7 2014.7L1277.6 2015.3L1280.6 2015.9L1283.5 2016.5L1286.4 2017.0L1289.4 2017.6L1292.3 2018.1L1295.2 2018.7L1298.1 2019.2L1301.1 2019.8L1304.0 2020.3L1306.9 2020.8L1309.8 2021.3L1312.8 2021.8L1315.7 2022.3L1318.6 2022.9L1321.5 2023.3L1324.4 2023.8L1327.3 2024.3L1330.3 2024.8L1333.2 2025.3L1336.1 2025.8L1339.0 2026.3L1341.9 2026.8L1344.8 2027.3L1347.8 2027.7L1350.7 2028.2L1353.6 2028.7L1356.5 2029.2L1359.4 2029.7L1362.4 2030.2L1365.3 2030.6L1368.2 2031.1L1371.1 2031.6L1374.0 2032.1L1377.0 2032.6L1379.9 2033.1L1382.8 2033.6L1385.7 2034.2L1388.7 2034.7L1391.6 2035.2L1394.5 2035.7L1397.5 2036.3L1400.4 2036.8L1403.4 2037.4L1406.3 2037.9L1409.2 2038.5L1412.2 2039.1L1415.1 2039.7L1418.1 2040.3L1421.0 2040.9L1424.0 2041.5L1427.0 2042.1L1429.9 2042.7L1432.9 2043.4L1435.8 2044.0L1438.8 2044.7L1441.7 2045.4L1444.7 2046.1L1447.6 2046.9L1450.6 2047.6L1453.5 2048.4L1456.5 2049.2L1459.4 2050.0L1462.3 2050.9L1465.2 2051.7L1468.1 2052.6L1471.0 2053.5L1473.9 2054.5L1476.7 2055.5L1479.6 2056.5L1482.4 2057.5L1485.3 2058.6L1488.1 2059.7L1490.9 2060.9L1493.6 2062.0L1496.4 2063.2L1499.2 2064.5L1501.9 2065.8L1504.6 2067.1L1507.3 2068.5L1510.0 2069.9L1512.6 2071.4L1515.2 2072.9L1517.8 2074.4L1520.4 2076.0L1523.0 2077.6L1525.5 2079.3L1528.0 2081.1L1530.5 2082.8L1532.9 2084.6L1535.3 2086.5L1537.7 2088.4L1540.0 2090.3L1542.4 2092.3L1544.6 2094.3L1546.9 2096.3L1549.1 2098.4L1551.2 2100.5L1553.4 2102.7L1555.4 2104.9L1557.5 2107.1L1559.5 2109.3L1561.4 2111.6L1563.3 2113.9L1565.2 2116.3L1567.0 2118.6L1568.8 2121.0L1570.5 2123.5L1572.1 2125.9L1573.7 2128.4L1575.3 2130.9L1576.8 2133.5L1578.2 2136.0L1579.6 2138.6L1580.9 2141.2L1582.2 2143.8L1583.4 2146.5L1584.6 2149.2L1585.7 2151.8L1586.8 2154.6L1587.8 2157.3L1588.8 2160.0L1589.7 2162.8L1590.6 2165.6L1591.5 2168.4L1592.3 2171.2L1593.0 2174.0L1593.8 2176.9L1594.5 2179.7L1595.1 2182.6L1595.8 2185.5L1596.3 2188.4L1596.9 2191.3L1597.4 2194.2L1597.9 2197.2L1598.4 2200.1L1598.9 2203.1L1599.3 2206.0L1599.7 2209.0L1600.1 2212.0L1600.4 2215.0L1600.7 2218.0L1601.1 2221.0L1601.3 2224.0L1601.6 2227.0L1601.9 2230.0L1602.2 2233.0L1602.4 2236.0L1602.6 2239.1L1602.8 2242.1L1603.1 2245.1L1603.3 2248.1L1603.5 2251.2L1603.7 2254.2L1603.8 2257.2L1604.0 2260.2L1604.2 2263.3L1604.4 2266.3L1604.6 2269.3L1604.7 2272.3L1604.9 2275.3L1605.1 2278.4L1605.2 2281.4L1605.4 2284.4L1605.5 2287.4L1605.7 2290.4L1605.8 2293.5L1606.0 2296.5L1606.1 2299.5L1606.2 2302.5L1606.4 2305.5L1606.5 2308.5L1606.6 2311.5L1606.7 2314.5L1606.9 2317.5L1607.0 2320.6L1607.1 2323.6L1607.2 2326.6L1607.3 2329.6L1607.4 2332.6L1607.5 2335.6L1607.6 2338.6L1607.7 2341.6L1607.8 2344.6L1607.9 2347.6L1608.0 2350.6L1608.0 2353.6L1608.1 2356.6L1608.2 2359.6L1608.3 2362.6L1608.3 2365.6L1608.4 2368.6L1608.5 2371.6L1608.5 2374.6L1608.6 2377.6L1608.7 2380.7L1608.7 2383.7L1608.8 2386.7L1608.8 2389.7L1608.9 2392.7L1608.9 2395.6L1609.0 2398.6L1609.0 2401.6L1609.1 2404.6L1609.1 2407.6L1609.1 2410.6L1609.2 2413.6L1609.2 2416.6L1609.3 2419.6L1609.3 2422.6L1609.3 2425.6L1609.3 2428.6L1609.4 2431.6L1609.4 2434.6L1609.4 2437.6L1609.4 2440.6L1609.5 2443.6L1609.5 2446.6L1609.5 2449.6L1609.5 2452.6L1609.5 2455.6L1609.5 2458.6L1609.6 2461.6L1609.6 2464.6L1609.6 2467.6L1609.6 2470.6L1609.6 2473.6L1609.6 2476.6L1609.6 2479.6L1609.6 2482.6L1609.6 2485.6L1609.6 2488.6L1609.6 2491.6L1609.6 2494.6L1609.6 2497.5L1609.6 2500.5L1609.6 2503.5L1609.6 2506.5L1609.6 2509.5L1609.6 2512.5L1609.6 2515.5L1609.6 2518.5L1609.6 2521.5L1609.6 2524.5L1609.6 2527.5L1609.6 2530.5L1609.6 2533.5L1609.6 2536.5L1609.6 2539.5L1609.6 2542.5L1609.6 2545.5L1609.6 2548.5L1609.6 2551.5L1609.6 2554.5L1609.6 2557.5L1609.6 2560.5L1609.6 2563.5L1609.6 2566.5L1609.6 2569.6L1609.6 2572.6L1609.6 2575.6L1609.6 2578.6L1609.6 2581.6L1609.6 2584.6L1609.6 2587.6L1609.6 2590.6L1609.6 2593.6L1609.6 2596.6L1609.6 2599.6L1609.6 2602.6L1609.6 2605.6L1609.6 2608.6L1609.6 2611.7L1609.6 2614.7L1609.7 2617.7L1609.7 2620.7L1609.7 2623.7L1609.7 2626.7L1609.7 2629.7L1609.7 2632.8L1609.7 2635.8L1609.8 2638.8L1609.8 2641.8L1609.8 2644.8L1609.8 2647.8L1609.9 2650.9L1609.9 2653.9L1609.9 2656.9L1609.9 2659.9L1610.0 2663.0L1610.0 2666.0L1610.0 2669.0L1610.1 2672.0L1610.1 2675.1L1610.2 2678.1L1610.2 2681.1L1610.3 2684.1" fill="none" stroke="#D95319" stroke-width="4" stroke-linejoin="round" stroke-linecap="round"/>
<path d="M828.1 2153.7L828.1 2156.5L828.1 2159.3L828.1 2162.2L828.1 2165.1L828.1 2168.0L828.1 2171.0L828.1 2174.0L828.1 2177.0L828.0 2180.0L827.9 2183.1L827.8 2186.1L827.7 2189.2L827.6 2192.3L827.4 2195.4L827.2 2198.5L826.9 2201.6L826.7 2204.7L826.3 2207.8L826.0 2210.9L825.6 2213.9L825.1 2217.0L824.6 2220.0L824.1 2223.1L823.5 2226.1L822.8 2229.1L822.1 2232.0L821.3 2235.0L820.5 2237.8L819.6 2240.7L818.6 2243.5L817.6 2246.3L816.5 2249.1L815.3 2251.8L814.1 2254.5L812.8 2257.1L811.5 2259.8L810.1 2262.4L808.7 2264.9L807.2 2267.4L805.6 2269.9L804.1 2272.4L802.4 2274.8L800.7 2277.2L799.0 2279.5L797.2 2281.8L795.3 2284.1L793.5 2286.3L791.5 2288.6L789.6 2290.7L787.5 2292.9L785.5 2295.0L783.4 2297.1L781.3 2299.1L779.1 2301.1L776.9 2303.1L774.6 2305.0L772.4 2306.9L770.0 2308.8L767.7 2310.7L765.3 2312.5L762.9 2314.2L760.5 2316.0L758.0 2317.7L755.5 2319.3L753.0 2321.0L750.4 2322.6L747.9 2324.2L745.3 2325.7L742.7 2327.2L740.0 2328.7L737.4 2330.1L734.7 2331.5L732.0 2332.9L729.3 2334.2L726.6 2335.5L723.8 2336.8L721.1 2338.0L718.3 2339.2L715.5 2340.4L712.7 2341.5L709.9 2342.6L707.1 2343.7L704.3 2344.7L701.4 2345.7L698.6 2346.7L695.7 2347.7L692.9 2348.6L690.0 2349.4L687.1 2350.3L684.3 2351.1L681.4 2351.9L678.5 2352.6L675.6 2353.4L672.6 2354.1L669.7 2354.7L666.8 2355.4L663.9 2356.0L660.9 2356.6L658.0 2357.1L655.0 2357.6L652.1 2358.1L649.1 2358.6L646.1 2359.1L643.2 2359.5L640.2 2359.9L637.2 2360.2L634.2 2360.6L631.2 2360.9L628.2 2361.2L625.2 2361.4L622.2 2361.7L619.2 2361.9L616.2 2362.1L613.2 2362.3L610.2 2362.4L607.2 2362.5L604.1 2362.6L601.1 2362.7L598.1 2362.8L595.1 2362.8L592.0 2362.8L589.0 2362.8L586.0 2362.8L582.9 2362.7L579.9 2362.7L576.9 2362.6L573.8 2362.5L570.8 2362.3L567.8 2362.2L564.7 2362.0L561.7 2361.9L558.7 2361.7L555.6 2361.4L552.6 2361.2L549.6 2360.9L546.5 2360.7L543.5 2360.4L540.5 2360.1L537.5 2359.8L534.4 2359.4L531.4 2359.1L528.4 2358.7L525.4 2358.3L522.4 2357.9L519.4 2357.5L516.4 2357.1L513.4 2356.7L510.4 2356.2L507.4 2355.7L504.4 2355.3L501.4 2354.8L498.5 2354.2L495.5 2353.7L492.5 2353.1L489.6 2352.5L486.7 2351.9L483.7 2351.2L480.8 2350.6L477.9 2349.9L475.0 2349.1L472.1 2348.4L469.2 2347.6L466.4 2346.8L463.5 2345.9L460.7 2345.0L457.9 2344.1L455.1 2343.1L452.3 2342.1L449.5 2341.1L446.8 2340.0L444.0 2338.9L441.3 2337.7L438.6 2336.5L435.9 2335.3L433.3 2334.0L430.6 2332.6L428.0 2331.3L425.4 2329.8L422.8 2328.3L420.3 2326.8L417.7 2325.2L415.2 2323.6L412.7 2321.9L410.3 2320.2L407.8 2318.4L405.5 2316.5L403.1 2314.7L400.7 2312.8L398.4 2310.8L396.2 2308.8L393.9 2306.7L391.7 2304.7L389.6 2302.5L387.5 2300.4L385.4 2298.2L383.4 2295.9L381.4 2293.6L379.4 2291.3L377.5 2289.0L375.7 2286.6L373.9 2284.2L372.1 2281.7L370.5 2279.2L368.8 2276.7L367.2 2274.2L365.7 2271.6L364.2 2269.0L362.8 2266.4L361.4 2263.7L360.1 2261.1L358.9 2258.4L357.6 2255.6L356.5 2252.9L355.4 2250.1L354.3 2247.4L353.3 2244.5L352.3 2241.7L351.4 2238.9L350.6 2236.0L349.7 2233.1L348.9 2230.3L348.2 2227.4L347.5 2224.4L346.8 2221.5L346.1 2218.6L345.5 2215.6L345.0 2212.7L344.4 2209.7L343.9 2206.7L343.4 2203.7L343.0 2200.7L342.6 2197.7L342.2 2194.7L341.8 2191.7L341.5 2188.7L341.2 2185.7L340.9 2182.7L340.6 2179.7L340.3 2176.7L340.1 2173.7L339.9 2170.7L339.7 2167.7L339.5 2164.7L339.4 2161.7L339.2 2158.7L339.1 2155.7L339.0 2152.7L338.9 2149.7L338.8 2146.7L338.8 2143.7L338.7 2140.7L338.7 2137.7L338.7 2134.7L338.7 2131.7L338.7 2128.7L338.7 2125.7L338.7 2122.7L338.7 2119.7L338.8 2116.7L338.8 2113.7L338.9 2110.7L339.0 2107.7L339.1 2104.7L339.1 2101.7L339.2 2098.7L339.3 2095.7L339.4 2092.7L339.6 2089.7L339.7 2086.7L339.8 2083.7L339.9 2080.7L340.1 2077.7L340.2 2074.7L340.4 2071.7L340.6 2068.7L340.7 2065.7L340.9 2062.7L341.1 2059.7L341.3 2056.7L341.5 2053.7L341.7 2050.7L341.9 2047.7L342.2 2044.7L342.4 2041.7L342.7 2038.7L342.9 2035.7L343.2 2032.7L343.5 2029.7L343.7 2026.7L344.0 2023.7L344.3 2020.7L344.6 2017.7L345.0 2014.7L345.3 2011.7L345.6 2008.7L346.0 2005.7L346.4 2002.7L346.7 1999.7L347.1 1996.8L347.5 1993.8L347.9 1990.8L348.3 1987.8L348.7 1984.8L349.2 1981.8L349.6 1978.9L350.1 1975.9L350.6 1972.9L351.0 1969.9L351.5 1967.0L352.0 1964.0L352.6 1961.0L353.1 1958.1L353.6 1955.1L354.2 1952.1L354.8 1949.2L355.3 1946.2L355.9 1943.3L356.6 1940.3L357.2 1937.4L357.8 1934.4L358.5 1931.5L359.2 1928.6L359.9 1925.7L360.6 1922.8L361.4 1919.9L362.2 1917.0L362.9 1914.1L363.8 1911.2L364.6 1908.3L365.5 1905.5L366.4 1902.6L367.3 1899.8L368.3 1897.0L369.2 1894.1L370.2 1891.3L371.3 1888.6L372.4 1885.8L373.5 1883.0L374.6 1880.3L375.8 1877.5L377.0 1874.8L378.2 1872.1L379.5 1869.4L380.8 1866.7L382.1 1864.1L383.5 1861.4L384.9 1858.8L386.4 1856.2L387.9 1853.6L389.4 1851.0L391.0 1848.5L392.6 1845.9L394.2 1843.4L395.9 1840.9L397.6 1838.4L399.3 1836.0L401.1 1833.5L402.9 1831.1L404.7 1828.7L406.5 1826.3L408.4 1823.9L410.3 1821.6L412.3 1819.3L414.3 1817.0L416.3 1814.7L418.3 1812.4L420.3 1810.2L422.4 1808.0L424.5 1805.8L426.6 1803.6L428.8 1801.5L430.9 1799.3L433.1 1797.2L435.3 1795.1L437.6 1793.1L439.8 1791.1L442.1 1789.0L444.4 1787.1L446.7 1785.1L449.0 1783.2L451.4 1781.2L453.8 1779.3L456.1 1777.5L458.5 1775.6L460.9 1773.8L463.4 1772.0L465.8 1770.3L468.3 1768.5L470.7 1766.8L473.2 1765.1L475.7 1763.4L478.2 1761.8L480.7 1760.2L483.3 1758.6L485.8 1757.0L488.4 1755.4L491.0 1753.9L493.6 1752.4L496.2 1750.9L498.8 1749.4L501.4 1748.0L504.0 1746.6L506.7 1745.2L509.3 1743.8L512.0 1742.4L514.7 1741.1L517.4 1739.8L520.1 1738.5L522.8 1737.2L525.5 1736.0L528.2 1734.7L531.0 1733.5L533.7 1732.3L536.5 1731.2L539.2 1730.0L542.0 1728.9L544.8 1727.8L547.6 1726.7L550.4 1725.6L553.2 1724.5L556.0 1723.5L558.8 1722.5L561.6 1721.5L564.4 1720.5L567.3 1719.5L570.1 1718.6L573.0 1717.6L575.8 1716.7L578.7 1715.8L581.5 1715.0L584.4 1714.1L587.2 1713.2L590.1 1712.4L593.0 1711.6L595.9 1710.8L598.8 1710.0L601.7 1709.3L604.5 1708.5L607.4 1707.8L610.4 1707.1L613.3 1706.4L616.2 1705.7L619.1 1705.0L622.0 1704.4L624.9 1703.8L627.9 1703.2L630.8 1702.6L633.7 1702.0L636.7 1701.4L639.6 1700.9L642.5 1700.3L645.5 1699.8L648.4 1699.3L651.4 1698.8L654.4 1698.3L657.3 1697.9L660.3 1697.4L663.2 1697.0L666.2 1696.6L669.2 1696.2L672.2 1695.8L675.1 1695.4L678.1 1695.1L681.1 1694.8L684.1 1694.4L687.1 1694.1L690.1 1693.8L693.1 1693.5L696.0 1693.3L699.0 1693.0L702.0 1692.8L705.0 1692.6L708.0 1692.4L711.0 1692.2L714.0 1692.0L717.0 1691.8L720.1 1691.7L723.1 1691.6L726.1 1691.4L729.1 1691.3L732.1 1691.2L735.1 1691.1L738.1 1691.1L741.1 1691.0L744.2 1691.0L747.2 1691.0L750.2 1690.9L753.2 1690.9L756.2 1691.0L759.3 1691.0L762.3 1691.0L765.3 1691.1L768.3 1691.1L771.3 1691.2L774.4 1691.3L777.4 1691.4L780.4 1691.5L783.4 1691.6L786.4 1691.8L789.5 1691.9L792.5 1692.1L795.5 1692.3L798.5 1692.5L801.5 1692.7L804.6 1692.9L807.6 1693.1L810.6 1693.4L813.6 1693.6L816.6 1693.9L819.7 1694.1L822.7 1694.4L825.7 1694.7L828.7 1695.0L831.7 1695.4L834.7 1695.7L837.7 1696.0L840.7 1696.4L843.7 1696.8L846.7 1697.1L849.8 1697.5L852.8 1697.9L855.8 1698.3L858.7 1698.8L861.7 1699.2L864.7 1699.6L867.7 1700.1L870.7 1700.6L873.7 1701.0L876.7 1701.5L879.7 1702.0L882.7 1702.5L885.6 1703.0L888.6 1703.6L891.6 1704.1L894.6 1704.6L897.5 1705.2L900.5 1705.8L903.4 1706.4L906.4 1706.9L909.4 1707.5L912.3 1708.1L915.3 1708.8L918.2 1709.4L921.2 1710.0L924.1 1710.7L927.0 1711.3L930.0 1712.0L932.9 1712.7L935.8 1713.3L938.7 1714.0L941.6 1714.7L944.6 1715.5L947.5 1716.2L950.4 1716.9L953.3 1717.7L956.2 1718.4L959.1 1719.2L962.0 1719.9L964.8 1720.7L967.7 1721.5L970.6 1722.3L973.5 1723.1L976.3 1724.0L979.2 1724.8L982.0 1725.7L984.9 1726.5L987.7 1727.4L990.6 1728.3L993.4 1729.2L996.2 1730.1L999.1 1731.0L1001.9 1731.9L1004.7 1732.9L1007.5 1733.8L1010.3 1734.8L1013.1 1735.8L1015.9 1736.8L1018.7 1737.8L1021.5 1738.8L1024.2 1739.8L1027.0 1740.9L1029.8 1742.0L1032.5 1743.0L1035.3 1744.1L1038.0 1745.2L1040.8 1746.3L1043.5 1747.4L1046.2 1748.6L1048.9 1749.7L1051.6 1750.9L1054.3 1752.1L1057.0 1753.3L1059.7 1754.5L1062.4 1755.7L1065.1 1757.0L1067.7 1758.2L1070.4 1759.5L1073.1 1760.8L1075.7 1762.1L1078.3 1763.4L1081.0 1764.7L1083.6 1766.0L1086.2 1767.4L1088.8 1768.8L1091.4 1770.2L1094.0 1771.6L1096.6 1773.0L1099.2 1774.4L1101.8 1775.9L1104.3 1777.3L1106.9 1778.8L1109.4 1780.3L1111.9 1781.9L1114.5 1783.4L1117.0 1785.0L1119.5 1786.7L1122.0 1788.3L1124.4 1790.0L1126.9 1791.7L1129.4 1793.4L1131.8 1795.2L1134.2 1797.0L1136.6 1798.9L1139.0 1800.8L1141.4 1802.7L1143.8 1804.7L1146.1 1806.8L1148.5 1808.8L1150.8 1811.0L1153.0 1813.1L1155.3 1815.3L1157.5 1817.6L1159.6 1819.9L1161.7 1822.2L1163.7 1824.5L1165.7 1826.9L1167.6 1829.3L1169.5 1831.8L1171.2 1834.3L1172.9 1836.8L1174.5 1839.4L1176.0 1842.0L1177.4 1844.6L1178.7 1847.2L1179.9 1849.9L1181.0 1852.6L1182.0 1855.3L1182.8 1858.0L1183.6 1860.7L1184.2 1863.5L1184.6 1866.3L1185.0 1869.1L1185.2 1871.9L1185.4 1874.7L1185.4 1877.5L1185.3 1880.3L1185.0 1883.1L1184.7 1885.9L1184.2 1888.7L1183.7 1891.5L1183.0 1894.3L1182.3 1897.0L1181.4 1899.7L1180.4 1902.4L1179.4 1905.1L1178.2 1907.7L1176.9 1910.3L1175.6 1912.9L1174.1 1915.4L1172.6 1917.8L1170.9 1920.3L1169.2 1922.6L1167.4 1925.0L1165.5 1927.2L1163.5 1929.4L1161.4 1931.6L1159.3 1933.7L1157.1 1935.7L1154.8 1937.6L1152.4 1939.5L1149.9 1941.3L1147.4 1943.0L1144.9 1944.6L1142.2 1946.2L1139.5 1947.7L1136.8 1949.2L1134.1 1950.6L1131.3 1952.0L1128.4 1953.3L1125.6 1954.6L1122.8 1955.8L1119.9 1957.1L1117.1 1958.3L1114.2 1959.4L1111.4 1960.6L1108.6 1961.7L1105.8 1962.9L1103.0 1964.0L1100.3 1965.1L1097.6 1966.2L1094.9 1967.4L1092.3 1968.5L1089.8 1969.7L1087.3 1970.8 M1086.8 1973.2L1089.3 1974.5L1091.9 1975.6L1094.6 1976.7L1097.3 1977.6L1100.1 1978.4L1102.9 1979.2L1105.7 1979.9L1108.6 1980.6L1111.5 1981.2L1114.4 1981.8L1117.3 1982.3L1120.3 1982.8L1123.3 1983.3L1126.2 1983.7L1129.2 1984.1L1132.2 1984.5L1135.3 1984.8L1138.3 1985.2L1141.3 1985.5L1144.3 1985.9L1147.4 1986.2L1150.4 1986.5L1153.4 1986.9L1156.4 1987.2L1159.5 1987.5L1162.5 1987.9L1165.5 1988.2L1168.5 1988.5L1171.5 1988.8L1174.6 1989.2L1177.6 1989.5L1180.6 1989.8L1183.6 1990.1L1186.6 1990.4L1189.6 1990.8L1192.6 1991.1L1195.6 1991.4L1198.7 1991.7L1201.7 1992.0L1204.7 1992.4L1207.7 1992.7L1210.7 1993.0L1213.7 1993.3L1216.7 1993.6L1219.7 1994.0L1222.7 1994.3L1225.7 1994.6L1228.7 1994.9L1231.7 1995.2L1234.7 1995.6L1237.7 1995.9L1240.7 1996.2L1243.6 1996.5L1246.6 1996.8L1249.6 1997.2L1252.6 1997.5L1255.6 1997.8L1258.6 1998.1L1261.5 1998.5L1264.5 1998.8L1267.5 1999.1L1270.5 1999.5L1273.5 1999.8L1276.4 2000.1L1279.4 2000.5L1282.4 2000.8L1285.3 2001.2L1288.3 2001.5L1291.3 2001.8L1294.3 2002.2L1297.2 2002.5L1300.2 2002.9L1303.2 2003.2L1306.1 2003.6L1309.1 2004.0L1312.1 2004.3L1315.0 2004.7L1318.0 2005.1L1321.0 2005.4L1323.9 2005.8L1326.9 2006.2L1329.9 2006.6L1332.8 2007.0L1335.8 2007.3L1338.8 2007.7L1341.8 2008.1L1344.7 2008.5L1347.7 2008.9L1350.7 2009.3L1353.7 2009.8L1356.6 2010.2L1359.6 2010.6L1362.6 2011.0L1365.6 2011.4L1368.6 2011.9L1371.6 2012.3L1374.5 2012.8L1377.5 2013.2L1380.5 2013.7L1383.5 2014.1L1386.5 2014.6L1389.5 2015.1L1392.5 2015.5L1395.5 2016.0L1398.6 2016.5L1401.6 2017.0L1404.6 2017.5L1407.6 2018.0L1410.6 2018.5L1413.6 2019.0L1416.7 2019.6L1419.7 2020.1L1422.7 2020.7L1425.7 2021.2L1428.8 2021.8L1431.8 2022.4L1434.8 2023.0L1437.8 2023.6L1440.8 2024.2L1443.8 2024.9L1446.8 2025.6L1449.8 2026.2L1452.8 2027.0L1455.7 2027.7L1458.7 2028.4L1461.6 2029.2L1464.6 2030.0L1467.5 2030.9L1470.4 2031.7L1473.3 2032.6L1476.2 2033.5L1479.0 2034.5L1481.9 2035.4L1484.7 2036.4L1487.5 2037.5L1490.3 2038.5L1493.1 2039.7L1495.9 2040.8L1498.6 2042.0L1501.3 2043.2L1504.0 2044.4L1506.7 2045.7L1509.3 2047.1L1511.9 2048.5L1514.5 2049.9L1517.1 2051.3L1519.6 2052.8L1522.1 2054.4L1524.6 2056.0L1527.1 2057.6L1529.5 2059.3L1531.9 2061.1L1534.3 2062.9L1536.6 2064.7L1538.9 2066.6L1541.2 2068.5L1543.4 2070.5L1545.6 2072.5L1547.8 2074.6L1549.9 2076.7L1552.0 2078.9L1554.1 2081.1L1556.1 2083.3L1558.1 2085.6L1560.0 2087.9L1561.9 2090.2L1563.8 2092.6L1565.6 2095.0L1567.4 2097.4L1569.2 2099.9L1570.9 2102.4L1572.6 2104.9L1574.2 2107.5L1575.8 2110.0L1577.4 2112.7L1578.9 2115.3L1580.4 2118.0L1581.8 2120.6L1583.2 2123.4L1584.5 2126.1L1585.8 2128.8L1587.1 2131.6L1588.3 2134.4L1589.4 2137.2L1590.5 2140.0L1591.6 2142.8L1592.6 2145.7L1593.6 2148.6L1594.5 2151.4L1595.4 2154.3L1596.2 2157.2L1597.0 2160.1L1597.7 2163.0L1598.4 2166.0L1599.0 2168.9L1599.7 2171.8L1600.2 2174.8L1600.8 2177.7L1601.3 2180.7L1601.7 2183.7L1602.2 2186.6L1602.6 2189.6L1603.0 2192.6L1603.3 2195.6L1603.7 2198.6L1604.0 2201.6L1604.3 2204.6L1604.5 2207.6L1604.8 2210.6L1605.0 2213.6L1605.3 2216.6L1605.5 2219.6L1605.7 2222.6L1605.9 2225.6L1606.1 2228.6L1606.3 2231.6L1606.5 2234.7L1606.7 2237.7L1606.9 2240.7L1607.1 2243.7L1607.3 2246.7L1607.4 2249.7L1607.6 2252.7L1607.8 2255.7L1607.9 2258.8L1608.1 2261.8L1608.2 2264.8L1608.4 2267.8L1608.5 2270.8L1608.6 2273.8L1608.8 2276.8L1608.9 2279.8L1609.0 2282.9L1609.1 2285.9L1609.2 2288.9L1609.3 2291.9L1609.4 2294.9L1609.5 2297.9L1609.6 2300.9L1609.7 2304.0L1609.8 2307.0L1609.9 2310.0L1610.0 2313.0L1610.1 2316.0L1610.1 2319.0L1610.2 2322.0L1610.3 2325.1L1610.3 2328.1L1610.4 2331.1L1610.4 2334.1L1610.5 2337.1L1610.5 2340.1L1610.6 2343.1L1610.6 2346.2L1610.7 2349.2L1610.7 2352.2L1610.7 2355.2L1610.8 2358.2L1610.8 2361.2L1610.8 2364.3L1610.9 2367.3L1610.9 2370.3L1610.9 2373.3L1610.9 2376.3L1610.9 2379.3L1610.9 2382.4L1610.9 2385.4L1611.0 2388.4L1611.0 2391.4L1611.0 2394.4L1611.0 2397.4L1611.0 2400.4L1611.0 2403.5L1611.0 2406.5L1610.9 2409.5L1610.9 2412.5L1610.9 2415.5L1610.9 2418.5L1610.9 2421.6L1610.9 2424.6L1610.9 2427.6L1610.9 2430.6L1610.8 2433.6L1610.8 2436.6L1610.8 2439.7L1610.8 2442.7L1610.8 2445.7L1610.7 2448.7L1610.7 2451.7L1610.7 2454.8L1610.7 2457.8L1610.6 2460.8L1610.6 2463.8L1610.6 2466.8L1610.5 2469.8L1610.5 2472.9L1610.5 2475.9L1610.5 2478.9L1610.4 2481.9L1610.4 2484.9L1610.4 2487.9L1610.3 2491.0L1610.3 2494.0L1610.3 2497.0L1610.2 2500.0L1610.2 2503.0L1610.2 2506.0L1610.1 2509.1L1610.1 2512.1L1610.1 2515.1L1610.1 2518.1L1610.0 2521.1L1610.0 2524.1L1610.0 2527.2L1610.0 2530.2L1609.9 2533.2L1609.9 2536.2L1609.9 2539.2L1609.9 2542.2L1609.8 2545.3L1609.8 2548.3L1609.8 2551.3L1609.8 2554.3L1609.8 2557.3L1609.7 2560.4L1609.7 2563.4L1609.7 2566.4L1609.7 2569.4L1609.7 2572.4L1609.7 2575.4L1609.7 2578.5L1609.7 2581.5L1609.7 2584.5L1609.7 2587.5L1609.7 2590.5L1609.7 2593.5L1609.7 2596.5L1609.7 2599.6L1609.7 2602.6L1609.7 2605.6L1609.7 2608.6L1609.7 2611.6L1609.7 2614.6L1609.8 2617.7L1609.8 2620.7L1609.8 2623.7L1609.8 2626.7L1609.9 2629.7L1609.9 2632.7L1609.9 2635.8L1610.0 2638.8L1610.0 2641.8L1610.1 2644.8L1610.1 2647.8L1610.2 2650.8L1610.2 2653.8L1610.3 2656.9L1610.3 2659.9L1610.4 2662.9L1610.5 2665.9L1610.5 2668.9L1610.6 2671.9L1610.7 2674.9L1610.8 2678.0L1610.9 2681.0L1610.9 2684.0" fill="none" stroke="#EDB120" stroke-width="4" stroke-linejoin="round" stroke-linecap="round"/>
<path d="M824.0 2152.5C828.2 2152.5 844.8 2152.5 849.0 2152.5" fill="none" stroke="#EDB120" stroke-width="4" stroke-linejoin="round" stroke-linecap="round"/>
<path d="M818.5 2144.3C819.2 2144.9 821.4 2146.7 822.8 2148.0C824.2 2149.3 826.3 2151.3 827.0 2152.0" fill="none" stroke="#EDB120" stroke-width="4" stroke-linejoin="round" stroke-linecap="round"/>
<rect x="1211.3" y="1614.8" width="399.2" height="205.7" fill="#fff" stroke="#262626" stroke-width="2.6"/>
<line x1="1224.9" y1="1654.8" x2="1358.3" y2="1654.8" stroke="#0072BD" stroke-width="4"/>
<text transform="translate(1365.80 1673.80)" x="0.00" text-anchor="start" style="font-size:47.60px;fill:#000;letter-spacing:0.40px;">Leq=0.002</text>
<line x1="1224.9" y1="1719.1" x2="1358.3" y2="1719.1" stroke="#D95319" stroke-width="4"/>
<text transform="translate(1365.80 1738.10)" x="0.00" text-anchor="start" style="font-size:47.60px;fill:#000;letter-spacing:0.40px;">Leq=0.02</text>
<line x1="1224.9" y1="1783.3" x2="1358.3" y2="1783.3" stroke="#EDB120" stroke-width="4"/>
<text transform="translate(1365.80 1802.30)" x="0.00" text-anchor="start" style="font-size:47.60px;fill:#000;letter-spacing:0.40px;">Leq=0.05</text>
<text transform="translate(904.60 2808.70) scale(0.9590 1)" x="0.00" text-anchor="middle" style="font-size:51.20px;fill:#000;">Open-Loop Phase (deg)</text>
<text transform="translate(73.50 2155.00) rotate(-90) scale(0.9350 1)" x="0.00" text-anchor="middle" style="font-size:51.80px;fill:#000;">Open-Loop Gain (dB)</text>
<text x="856" y="2930.0" text-anchor="middle" style="font-family:'Liberation Serif','Times New Roman',serif;font-size:86.0px;fill:#000;">(<tspan style="font-weight:bold">b</tspan>)</text>
</svg>
</body></html>
